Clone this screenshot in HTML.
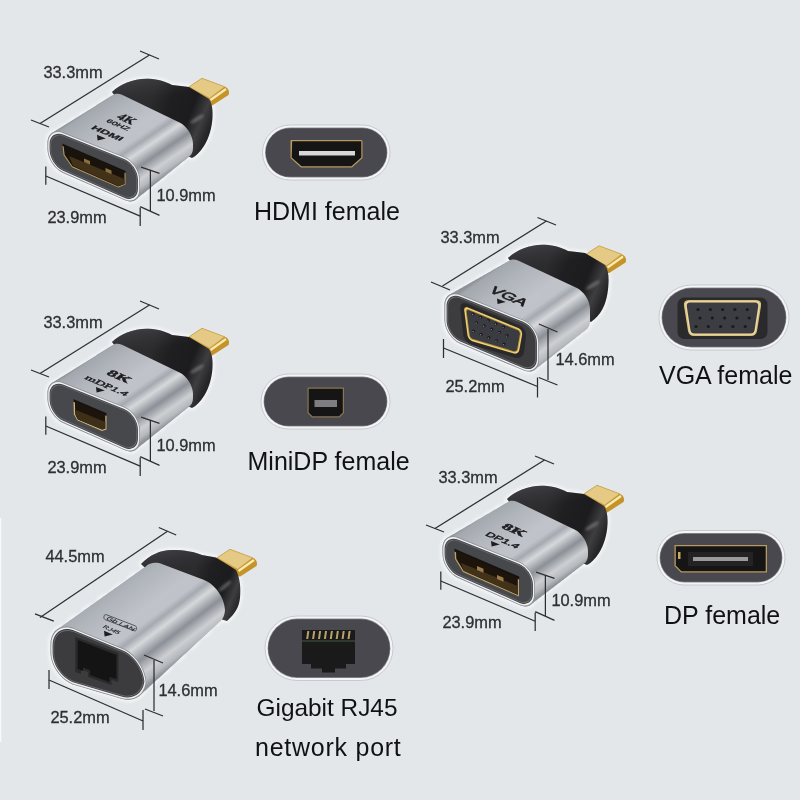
<!DOCTYPE html><html><head><meta charset="utf-8"><style>html,body{margin:0;padding:0;background:#e3e7ea}svg{display:block;font-family:"Liberation Sans",sans-serif;filter:blur(0.3px)}</style></head><body>
<svg width="800" height="800" viewBox="0 0 800 800"><defs><filter id="hb" x="-20%" y="-20%" width="140%" height="140%"><feGaussianBlur stdDeviation="1.8"/></filter><filter id="hs" x="-50%" y="-50%" width="200%" height="200%"><feGaussianBlur stdDeviation="1.3"/></filter><linearGradient id="lg1" gradientUnits="userSpaceOnUse" x1="150.0" y1="100.0" x2="210.0" y2="125.0"><stop offset="0.000" stop-color="#2c2c2f"/><stop offset="0.300" stop-color="#1f1f21"/><stop offset="0.650" stop-color="#1c1c1e"/><stop offset="0.850" stop-color="#3e3e41"/><stop offset="1.000" stop-color="#262628"/></linearGradient><linearGradient id="bg2" x1="0" y1="0" x2="0.25" y2="1"><stop offset="0" stop-color="#5a5a60" stop-opacity="0.55"/><stop offset="0.35" stop-color="#3a3a3e" stop-opacity="0"/></linearGradient><clipPath id="c3"><path d="M63.28,132.31 L124.22,156.69 C132.90,160.16 140.00,170.65 140.00,180.00 L140.00,190.00 C140.00,199.35 133.01,203.90 124.46,200.11 L63.04,172.89 C54.49,169.10 47.50,158.35 47.50,149.00 L47.50,143.00 C47.50,133.65 54.60,128.84 63.28,132.31 Z"/><path d="M65.26,131.07 L126.06,155.54 C134.70,159.02 141.77,169.49 141.77,178.80 L141.77,188.60 C141.77,197.91 134.80,202.45 126.29,198.67 L65.03,171.53 C56.52,167.75 49.55,157.05 49.55,147.73 L49.55,141.68 C49.55,132.37 56.62,127.60 65.26,131.07 Z"/><path d="M67.23,129.83 L127.90,154.40 C136.50,157.88 143.53,168.32 143.53,177.60 L143.53,187.20 C143.53,196.48 136.59,200.99 128.11,197.23 L67.02,170.17 C58.54,166.41 51.60,155.74 51.60,146.47 L51.60,140.37 C51.60,131.09 58.63,126.35 67.23,129.83 Z"/><path d="M69.21,128.59 L129.74,153.26 C138.30,156.75 145.30,167.16 145.30,176.40 L145.30,185.80 C145.30,195.04 138.39,199.54 129.94,195.80 L69.01,168.80 C60.56,165.06 53.65,154.44 53.65,145.20 L53.65,139.05 C53.65,129.81 60.65,125.10 69.21,128.59 Z"/><path d="M71.18,127.35 L131.58,152.12 C140.10,155.61 147.07,166.00 147.07,175.20 L147.07,184.40 C147.07,193.60 140.18,198.08 131.77,194.36 L71.00,167.44 C62.58,163.72 55.70,153.14 55.70,143.93 L55.70,137.73 C55.70,128.53 62.67,123.86 71.18,127.35 Z"/><path d="M73.16,126.11 L133.43,150.98 C141.90,154.47 148.83,164.83 148.83,174.00 L148.83,183.00 C148.83,192.17 141.98,196.63 133.59,192.92 L72.99,166.08 C64.61,162.37 57.75,151.83 57.75,142.67 L57.75,136.42 C57.75,127.25 64.68,122.61 73.16,126.11 Z"/><path d="M75.13,124.87 L135.27,149.83 C143.70,153.34 150.60,163.67 150.60,172.80 L150.60,181.60 C150.60,190.73 143.77,195.18 135.42,191.48 L74.98,164.72 C66.63,161.02 59.80,150.53 59.80,141.40 L59.80,135.10 C59.80,125.97 66.70,121.36 75.13,124.87 Z"/><path d="M77.11,123.62 L137.11,148.69 C145.50,152.20 152.37,162.51 152.37,171.60 L152.37,180.20 C152.37,189.29 145.56,193.72 137.25,190.04 L76.97,163.36 C68.65,159.68 61.85,149.23 61.85,140.13 L61.85,133.78 C61.85,124.69 68.71,120.12 77.11,123.62 Z"/><path d="M79.08,122.38 L138.95,147.55 C147.30,151.06 154.13,161.34 154.13,170.40 L154.13,178.80 C154.13,187.86 147.36,192.27 139.08,188.60 L78.96,162.00 C70.68,158.33 63.90,147.92 63.90,138.87 L63.90,132.47 C63.90,123.41 70.73,118.87 79.08,122.38 Z"/><path d="M81.05,121.14 L140.80,146.41 C149.10,149.92 155.90,160.18 155.90,169.20 L155.90,177.40 C155.90,186.42 149.15,190.81 140.90,187.16 L80.95,160.64 C72.70,156.99 65.95,146.62 65.95,137.60 L65.95,131.15 C65.95,122.13 72.75,117.63 81.05,121.14 Z"/><path d="M83.03,119.90 L142.64,145.27 C150.90,148.79 157.67,159.02 157.67,168.00 L157.67,176.00 C157.67,184.98 150.95,189.36 142.73,185.73 L82.94,159.27 C74.72,155.64 68.00,145.32 68.00,136.33 L68.00,129.83 C68.00,120.85 74.76,116.38 83.03,119.90 Z"/><path d="M85.00,118.65 L144.48,144.13 C152.70,147.65 159.43,157.85 159.43,166.80 L159.43,174.60 C159.43,183.55 152.74,187.91 144.56,184.29 L84.93,157.91 C76.74,154.29 70.05,144.01 70.05,135.07 L70.05,128.52 C70.05,119.57 76.78,115.13 85.00,118.65 Z"/><path d="M86.98,117.41 L146.32,142.99 C154.51,146.51 161.20,156.69 161.20,165.60 L161.20,173.20 C161.20,182.11 154.53,186.45 146.38,182.85 L86.92,156.55 C78.77,152.95 72.10,142.71 72.10,133.80 L72.10,127.20 C72.10,118.29 78.79,113.89 86.98,117.41 Z"/><path d="M88.95,116.17 L148.17,141.85 C156.31,145.38 162.97,155.53 162.97,164.40 L162.97,171.80 C162.97,180.67 156.33,185.00 148.21,181.41 L88.91,155.19 C80.79,151.60 74.15,141.41 74.15,132.53 L74.15,125.88 C74.15,117.01 80.81,112.64 88.95,116.17 Z"/><path d="M90.93,114.93 L150.01,140.71 C158.11,144.24 164.73,154.36 164.73,163.20 L164.73,170.40 C164.73,179.24 158.12,183.54 150.04,179.97 L90.90,153.83 C82.81,150.26 76.20,140.10 76.20,131.27 L76.20,124.57 C76.20,115.73 82.83,111.39 90.93,114.93 Z"/><path d="M92.90,113.68 L151.85,139.57 C159.91,143.11 166.50,153.20 166.50,162.00 L166.50,169.00 C166.50,177.80 159.91,182.09 151.87,178.53 L92.88,152.47 C84.84,148.91 78.25,138.80 78.25,130.00 L78.25,123.25 C78.25,114.45 84.84,110.14 92.90,113.68 Z"/><path d="M94.87,112.44 L153.69,138.43 C161.71,141.97 168.27,152.04 168.27,160.80 L168.27,167.60 C168.27,176.36 161.71,180.64 153.69,177.09 L94.87,151.11 C86.86,147.56 80.30,137.50 80.30,128.73 L80.30,121.93 C80.30,113.17 86.86,108.90 94.87,112.44 Z"/><path d="M96.85,111.20 L155.53,137.29 C163.51,140.83 170.03,150.87 170.03,159.60 L170.03,166.20 C170.03,174.93 163.50,179.18 155.52,175.66 L96.86,149.74 C88.88,146.22 82.35,136.19 82.35,127.47 L82.35,120.62 C82.35,111.89 88.87,107.65 96.85,111.20 Z"/><path d="M98.82,109.95 L157.38,136.15 C165.31,139.70 171.80,149.71 171.80,158.40 L171.80,164.80 C171.80,173.49 165.30,177.73 157.35,174.22 L98.85,148.38 C90.90,144.87 84.40,134.89 84.40,126.20 L84.40,119.30 C84.40,110.61 90.89,106.40 98.82,109.95 Z"/><path d="M100.80,108.71 L159.22,135.01 C167.11,138.56 173.57,148.55 173.57,157.20 L173.57,163.40 C173.57,172.05 167.09,176.27 159.17,172.78 L100.84,147.02 C92.93,143.53 86.45,133.59 86.45,124.93 L86.45,117.98 C86.45,109.33 92.91,105.16 100.80,108.71 Z"/><path d="M102.77,107.46 L161.06,133.87 C168.91,137.42 175.33,147.38 175.33,156.00 L175.33,162.00 C175.33,170.62 168.88,174.82 161.00,171.34 L102.83,145.66 C94.95,142.18 88.50,132.28 88.50,123.67 L88.50,116.67 C88.50,108.05 94.92,103.91 102.77,107.46 Z"/><path d="M104.74,106.22 L162.91,132.73 C170.71,136.29 177.10,146.22 177.10,154.80 L177.10,160.60 C177.10,169.18 170.68,173.37 162.83,169.90 L104.82,144.30 C96.97,140.83 90.55,130.98 90.55,122.40 L90.55,115.35 C90.55,106.77 96.94,102.66 104.74,106.22 Z"/><path d="M106.72,104.98 L164.75,131.59 C172.51,135.15 178.87,145.06 178.87,153.60 L178.87,159.20 C178.87,167.74 172.47,171.91 164.66,168.46 L106.81,142.94 C99.00,139.49 92.60,129.68 92.60,121.13 L92.60,114.03 C92.60,105.49 98.95,101.41 106.72,104.98 Z"/><path d="M108.69,103.73 L166.59,130.45 C174.31,134.02 180.63,143.89 180.63,152.40 L180.63,157.80 C180.63,166.31 174.27,170.46 166.48,167.02 L108.80,141.58 C101.02,138.14 94.65,128.37 94.65,119.87 L94.65,112.72 C94.65,104.21 100.97,100.17 108.69,103.73 Z"/><path d="M110.67,102.49 L168.43,129.31 C176.11,132.88 182.40,142.73 182.40,151.20 L182.40,156.40 C182.40,164.87 176.06,169.00 168.31,165.59 L110.79,140.21 C103.04,136.80 96.70,127.07 96.70,118.60 L96.70,111.40 C96.70,102.93 102.99,98.92 110.67,102.49 Z"/><path d="M112.64,101.24 L170.28,128.18 C177.92,131.75 184.17,141.57 184.17,150.00 L184.17,155.00 C184.17,163.43 177.85,167.55 170.14,164.15 L112.78,138.85 C105.06,135.45 98.75,125.77 98.75,117.33 L98.75,110.08 C98.75,101.65 105.00,97.67 112.64,101.24 Z"/><path d="M114.62,100.00 L172.12,127.04 C179.72,130.61 185.93,140.40 185.93,148.80 L185.93,153.60 C185.93,162.00 179.65,166.10 171.96,162.71 L114.77,137.49 C107.09,134.10 100.80,124.46 100.80,116.07 L100.80,108.77 C100.80,100.37 107.02,96.42 114.62,100.00 Z"/><path d="M116.59,98.75 L173.96,125.90 C181.52,129.47 187.70,139.24 187.70,147.60 L187.70,152.20 C187.70,160.56 181.44,164.64 173.79,161.27 L116.76,136.13 C109.11,132.76 102.85,123.16 102.85,114.80 L102.85,107.45 C102.85,99.09 109.03,95.18 116.59,98.75 Z"/><path d="M118.56,97.51 L175.80,124.76 C183.32,128.34 189.47,138.08 189.47,146.40 L189.47,150.80 C189.47,159.12 183.23,163.19 175.62,159.83 L118.75,134.77 C111.13,131.41 104.90,121.86 104.90,113.53 L104.90,106.13 C104.90,97.81 111.05,93.93 118.56,97.51 Z"/><path d="M120.54,96.26 L177.65,123.62 C185.12,127.20 191.23,136.91 191.23,145.20 L191.23,149.40 C191.23,157.69 185.03,161.73 177.45,158.39 L120.74,133.41 C113.15,130.07 106.95,120.55 106.95,112.27 L106.95,104.82 C106.95,96.53 113.06,92.68 120.54,96.26 Z"/><path d="M122.51,95.01 L179.49,122.49 C186.92,126.07 193.00,135.75 193.00,144.00 L193.00,148.00 C193.00,156.25 186.82,160.28 179.27,156.95 L122.73,132.05 C115.18,128.72 109.00,119.25 109.00,111.00 L109.00,103.50 C109.00,95.25 115.08,91.43 122.51,95.01 Z"/></clipPath><linearGradient id="lg4" gradientUnits="userSpaceOnUse" x1="85.0" y1="111.0" x2="141.0" y2="193.0"><stop offset="0.000" stop-color="#8e9299"/><stop offset="0.030" stop-color="#a3a7ae"/><stop offset="0.180" stop-color="#b0b4bb"/><stop offset="0.420" stop-color="#c0c3c9"/><stop offset="0.520" stop-color="#bfc2c8"/><stop offset="0.575" stop-color="#a5a9b0"/><stop offset="0.650" stop-color="#d6d8db"/><stop offset="0.770" stop-color="#8c9097"/><stop offset="0.880" stop-color="#cdcfd2"/><stop offset="0.950" stop-color="#b6b9bd"/><stop offset="1.000" stop-color="#8e9195"/></linearGradient><linearGradient id="lg5" gradientUnits="userSpaceOnUse" x1="150.0" y1="100.0" x2="210.0" y2="125.0"><stop offset="0.000" stop-color="#2c2c2f"/><stop offset="0.300" stop-color="#1f1f21"/><stop offset="0.650" stop-color="#1c1c1e"/><stop offset="0.850" stop-color="#3e3e41"/><stop offset="1.000" stop-color="#262628"/></linearGradient><linearGradient id="bg6" x1="0" y1="0" x2="0.25" y2="1"><stop offset="0" stop-color="#5a5a60" stop-opacity="0.55"/><stop offset="0.35" stop-color="#3a3a3e" stop-opacity="0"/></linearGradient><clipPath id="c7"><path d="M63.28,382.31 L124.22,406.69 C132.90,410.16 140.00,420.65 140.00,430.00 L140.00,440.00 C140.00,449.35 133.01,453.90 124.46,450.11 L63.04,422.89 C54.49,419.10 47.50,408.35 47.50,399.00 L47.50,393.00 C47.50,383.65 54.60,378.84 63.28,382.31 Z"/><path d="M65.26,381.07 L126.06,405.54 C134.70,409.02 141.77,419.49 141.77,428.80 L141.77,438.60 C141.77,447.91 134.80,452.45 126.29,448.67 L65.03,421.53 C56.52,417.75 49.55,407.05 49.55,397.73 L49.55,391.68 C49.55,382.37 56.62,377.60 65.26,381.07 Z"/><path d="M67.23,379.83 L127.90,404.40 C136.50,407.88 143.53,418.32 143.53,427.60 L143.53,437.20 C143.53,446.48 136.59,450.99 128.11,447.23 L67.02,420.17 C58.54,416.41 51.60,405.74 51.60,396.47 L51.60,390.37 C51.60,381.09 58.63,376.35 67.23,379.83 Z"/><path d="M69.21,378.59 L129.74,403.26 C138.30,406.75 145.30,417.16 145.30,426.40 L145.30,435.80 C145.30,445.04 138.39,449.54 129.94,445.80 L69.01,418.80 C60.56,415.06 53.65,404.44 53.65,395.20 L53.65,389.05 C53.65,379.81 60.65,375.10 69.21,378.59 Z"/><path d="M71.18,377.35 L131.58,402.12 C140.10,405.61 147.07,416.00 147.07,425.20 L147.07,434.40 C147.07,443.60 140.18,448.08 131.77,444.36 L71.00,417.44 C62.58,413.72 55.70,403.14 55.70,393.93 L55.70,387.73 C55.70,378.53 62.67,373.86 71.18,377.35 Z"/><path d="M73.16,376.11 L133.43,400.98 C141.90,404.47 148.83,414.83 148.83,424.00 L148.83,433.00 C148.83,442.17 141.98,446.63 133.59,442.92 L72.99,416.08 C64.61,412.37 57.75,401.83 57.75,392.67 L57.75,386.42 C57.75,377.25 64.68,372.61 73.16,376.11 Z"/><path d="M75.13,374.87 L135.27,399.83 C143.70,403.34 150.60,413.67 150.60,422.80 L150.60,431.60 C150.60,440.73 143.77,445.18 135.42,441.48 L74.98,414.72 C66.63,411.02 59.80,400.53 59.80,391.40 L59.80,385.10 C59.80,375.97 66.70,371.36 75.13,374.87 Z"/><path d="M77.11,373.62 L137.11,398.69 C145.50,402.20 152.37,412.51 152.37,421.60 L152.37,430.20 C152.37,439.29 145.56,443.72 137.25,440.04 L76.97,413.36 C68.65,409.68 61.85,399.23 61.85,390.13 L61.85,383.78 C61.85,374.69 68.71,370.12 77.11,373.62 Z"/><path d="M79.08,372.38 L138.95,397.55 C147.30,401.06 154.13,411.34 154.13,420.40 L154.13,428.80 C154.13,437.86 147.36,442.27 139.08,438.60 L78.96,412.00 C70.68,408.33 63.90,397.92 63.90,388.87 L63.90,382.47 C63.90,373.41 70.73,368.87 79.08,372.38 Z"/><path d="M81.05,371.14 L140.80,396.41 C149.10,399.92 155.90,410.18 155.90,419.20 L155.90,427.40 C155.90,436.42 149.15,440.81 140.90,437.16 L80.95,410.64 C72.70,406.99 65.95,396.62 65.95,387.60 L65.95,381.15 C65.95,372.13 72.75,367.63 81.05,371.14 Z"/><path d="M83.03,369.90 L142.64,395.27 C150.90,398.79 157.67,409.02 157.67,418.00 L157.67,426.00 C157.67,434.98 150.95,439.36 142.73,435.73 L82.94,409.27 C74.72,405.64 68.00,395.32 68.00,386.33 L68.00,379.83 C68.00,370.85 74.76,366.38 83.03,369.90 Z"/><path d="M85.00,368.65 L144.48,394.13 C152.70,397.65 159.43,407.85 159.43,416.80 L159.43,424.60 C159.43,433.55 152.74,437.91 144.56,434.29 L84.93,407.91 C76.74,404.29 70.05,394.01 70.05,385.07 L70.05,378.52 C70.05,369.57 76.78,365.13 85.00,368.65 Z"/><path d="M86.98,367.41 L146.32,392.99 C154.51,396.51 161.20,406.69 161.20,415.60 L161.20,423.20 C161.20,432.11 154.53,436.45 146.38,432.85 L86.92,406.55 C78.77,402.95 72.10,392.71 72.10,383.80 L72.10,377.20 C72.10,368.29 78.79,363.89 86.98,367.41 Z"/><path d="M88.95,366.17 L148.17,391.85 C156.31,395.38 162.97,405.53 162.97,414.40 L162.97,421.80 C162.97,430.67 156.33,435.00 148.21,431.41 L88.91,405.19 C80.79,401.60 74.15,391.41 74.15,382.53 L74.15,375.88 C74.15,367.01 80.81,362.64 88.95,366.17 Z"/><path d="M90.93,364.93 L150.01,390.71 C158.11,394.24 164.73,404.36 164.73,413.20 L164.73,420.40 C164.73,429.24 158.12,433.54 150.04,429.97 L90.90,403.83 C82.81,400.26 76.20,390.10 76.20,381.27 L76.20,374.57 C76.20,365.73 82.83,361.39 90.93,364.93 Z"/><path d="M92.90,363.68 L151.85,389.57 C159.91,393.11 166.50,403.20 166.50,412.00 L166.50,419.00 C166.50,427.80 159.91,432.09 151.87,428.53 L92.88,402.47 C84.84,398.91 78.25,388.80 78.25,380.00 L78.25,373.25 C78.25,364.45 84.84,360.14 92.90,363.68 Z"/><path d="M94.87,362.44 L153.69,388.43 C161.71,391.97 168.27,402.04 168.27,410.80 L168.27,417.60 C168.27,426.36 161.71,430.64 153.69,427.09 L94.87,401.11 C86.86,397.56 80.30,387.50 80.30,378.73 L80.30,371.93 C80.30,363.17 86.86,358.90 94.87,362.44 Z"/><path d="M96.85,361.20 L155.53,387.29 C163.51,390.83 170.03,400.87 170.03,409.60 L170.03,416.20 C170.03,424.93 163.50,429.18 155.52,425.66 L96.86,399.74 C88.88,396.22 82.35,386.19 82.35,377.47 L82.35,370.62 C82.35,361.89 88.87,357.65 96.85,361.20 Z"/><path d="M98.82,359.95 L157.38,386.15 C165.31,389.70 171.80,399.71 171.80,408.40 L171.80,414.80 C171.80,423.49 165.30,427.73 157.35,424.22 L98.85,398.38 C90.90,394.87 84.40,384.89 84.40,376.20 L84.40,369.30 C84.40,360.61 90.89,356.40 98.82,359.95 Z"/><path d="M100.80,358.71 L159.22,385.01 C167.11,388.56 173.57,398.55 173.57,407.20 L173.57,413.40 C173.57,422.05 167.09,426.27 159.17,422.78 L100.84,397.02 C92.93,393.53 86.45,383.59 86.45,374.93 L86.45,367.98 C86.45,359.33 92.91,355.16 100.80,358.71 Z"/><path d="M102.77,357.46 L161.06,383.87 C168.91,387.42 175.33,397.38 175.33,406.00 L175.33,412.00 C175.33,420.62 168.88,424.82 161.00,421.34 L102.83,395.66 C94.95,392.18 88.50,382.28 88.50,373.67 L88.50,366.67 C88.50,358.05 94.92,353.91 102.77,357.46 Z"/><path d="M104.74,356.22 L162.91,382.73 C170.71,386.29 177.10,396.22 177.10,404.80 L177.10,410.60 C177.10,419.18 170.68,423.37 162.83,419.90 L104.82,394.30 C96.97,390.83 90.55,380.98 90.55,372.40 L90.55,365.35 C90.55,356.77 96.94,352.66 104.74,356.22 Z"/><path d="M106.72,354.98 L164.75,381.59 C172.51,385.15 178.87,395.06 178.87,403.60 L178.87,409.20 C178.87,417.74 172.47,421.91 164.66,418.46 L106.81,392.94 C99.00,389.49 92.60,379.68 92.60,371.13 L92.60,364.03 C92.60,355.49 98.95,351.41 106.72,354.98 Z"/><path d="M108.69,353.73 L166.59,380.45 C174.31,384.02 180.63,393.89 180.63,402.40 L180.63,407.80 C180.63,416.31 174.27,420.46 166.48,417.02 L108.80,391.58 C101.02,388.14 94.65,378.37 94.65,369.87 L94.65,362.72 C94.65,354.21 100.97,350.17 108.69,353.73 Z"/><path d="M110.67,352.49 L168.43,379.31 C176.11,382.88 182.40,392.73 182.40,401.20 L182.40,406.40 C182.40,414.87 176.06,419.00 168.31,415.59 L110.79,390.21 C103.04,386.80 96.70,377.07 96.70,368.60 L96.70,361.40 C96.70,352.93 102.99,348.92 110.67,352.49 Z"/><path d="M112.64,351.24 L170.28,378.18 C177.92,381.75 184.17,391.57 184.17,400.00 L184.17,405.00 C184.17,413.43 177.85,417.55 170.14,414.15 L112.78,388.85 C105.06,385.45 98.75,375.77 98.75,367.33 L98.75,360.08 C98.75,351.65 105.00,347.67 112.64,351.24 Z"/><path d="M114.62,350.00 L172.12,377.04 C179.72,380.61 185.93,390.40 185.93,398.80 L185.93,403.60 C185.93,412.00 179.65,416.10 171.96,412.71 L114.77,387.49 C107.09,384.10 100.80,374.46 100.80,366.07 L100.80,358.77 C100.80,350.37 107.02,346.42 114.62,350.00 Z"/><path d="M116.59,348.75 L173.96,375.90 C181.52,379.47 187.70,389.24 187.70,397.60 L187.70,402.20 C187.70,410.56 181.44,414.64 173.79,411.27 L116.76,386.13 C109.11,382.76 102.85,373.16 102.85,364.80 L102.85,357.45 C102.85,349.09 109.03,345.18 116.59,348.75 Z"/><path d="M118.56,347.51 L175.80,374.76 C183.32,378.34 189.47,388.08 189.47,396.40 L189.47,400.80 C189.47,409.12 183.23,413.19 175.62,409.83 L118.75,384.77 C111.13,381.41 104.90,371.86 104.90,363.53 L104.90,356.13 C104.90,347.81 111.05,343.93 118.56,347.51 Z"/><path d="M120.54,346.26 L177.65,373.62 C185.12,377.20 191.23,386.91 191.23,395.20 L191.23,399.40 C191.23,407.69 185.03,411.73 177.45,408.39 L120.74,383.41 C113.15,380.07 106.95,370.55 106.95,362.27 L106.95,354.82 C106.95,346.53 113.06,342.68 120.54,346.26 Z"/><path d="M122.51,345.01 L179.49,372.49 C186.92,376.07 193.00,385.75 193.00,394.00 L193.00,398.00 C193.00,406.25 186.82,410.28 179.27,406.95 L122.73,382.05 C115.18,378.72 109.00,369.25 109.00,361.00 L109.00,353.50 C109.00,345.25 115.08,341.43 122.51,345.01 Z"/></clipPath><linearGradient id="lg8" gradientUnits="userSpaceOnUse" x1="85.0" y1="361.0" x2="141.0" y2="443.0"><stop offset="0.000" stop-color="#8e9299"/><stop offset="0.030" stop-color="#a3a7ae"/><stop offset="0.180" stop-color="#b0b4bb"/><stop offset="0.420" stop-color="#c0c3c9"/><stop offset="0.520" stop-color="#bfc2c8"/><stop offset="0.575" stop-color="#a5a9b0"/><stop offset="0.650" stop-color="#d6d8db"/><stop offset="0.770" stop-color="#8c9097"/><stop offset="0.880" stop-color="#cdcfd2"/><stop offset="0.950" stop-color="#b6b9bd"/><stop offset="1.000" stop-color="#8e9195"/></linearGradient><linearGradient id="lg9" gradientUnits="userSpaceOnUse" x1="150.0" y1="100.0" x2="210.0" y2="125.0"><stop offset="0.000" stop-color="#2c2c2f"/><stop offset="0.300" stop-color="#1f1f21"/><stop offset="0.650" stop-color="#1c1c1e"/><stop offset="0.850" stop-color="#3e3e41"/><stop offset="1.000" stop-color="#262628"/></linearGradient><linearGradient id="bg10" x1="0" y1="0" x2="0.25" y2="1"><stop offset="0" stop-color="#5a5a60" stop-opacity="0.55"/><stop offset="0.35" stop-color="#3a3a3e" stop-opacity="0"/></linearGradient><clipPath id="c11"><path d="M458.28,537.31 L519.22,561.69 C527.90,565.16 535.00,575.65 535.00,585.00 L535.00,595.00 C535.00,604.35 528.01,608.90 519.46,605.11 L458.04,577.89 C449.49,574.10 442.50,563.35 442.50,554.00 L442.50,548.00 C442.50,538.65 449.60,533.84 458.28,537.31 Z"/><path d="M460.26,536.14 L521.06,560.61 C529.70,564.09 536.77,574.55 536.77,583.87 L536.77,593.67 C536.77,602.98 529.80,607.51 521.29,603.74 L460.03,576.59 C451.52,572.82 444.55,562.11 444.55,552.80 L444.55,546.75 C444.55,537.44 451.62,532.66 460.26,536.14 Z"/><path d="M462.23,534.96 L522.90,559.54 C531.50,563.02 538.53,573.46 538.53,582.73 L538.53,592.33 C538.53,601.61 531.59,606.13 523.11,602.37 L462.02,575.30 C453.54,571.54 446.60,560.88 446.60,551.60 L446.60,545.50 C446.60,536.22 453.63,531.48 462.23,534.96 Z"/><path d="M464.21,533.79 L524.74,558.46 C533.30,561.95 540.30,572.36 540.30,581.60 L540.30,591.00 C540.30,600.24 533.39,604.74 524.94,601.00 L464.01,574.00 C455.56,570.26 448.65,559.64 448.65,550.40 L448.65,544.25 C448.65,535.01 455.65,530.30 464.21,533.79 Z"/><path d="M466.18,532.62 L526.58,557.38 C535.10,560.88 542.07,571.26 542.07,580.47 L542.07,589.67 C542.07,598.87 535.18,603.35 526.77,599.62 L466.00,572.71 C457.58,568.98 450.70,558.40 450.70,549.20 L450.70,543.00 C450.70,533.80 457.67,529.12 466.18,532.62 Z"/><path d="M468.16,531.44 L528.43,556.31 C536.90,559.81 543.83,570.17 543.83,579.33 L543.83,588.33 C543.83,597.50 536.98,601.96 528.59,598.25 L467.99,571.41 C459.61,567.70 452.75,557.17 452.75,548.00 L452.75,541.75 C452.75,532.58 459.68,527.94 468.16,531.44 Z"/><path d="M470.13,530.27 L530.27,555.23 C538.70,558.74 545.60,569.07 545.60,578.20 L545.60,587.00 C545.60,596.13 538.77,600.58 530.42,596.88 L469.98,570.12 C461.63,566.42 454.80,555.93 454.80,546.80 L454.80,540.50 C454.80,531.37 461.70,526.76 470.13,530.27 Z"/><path d="M472.11,529.09 L532.11,554.16 C540.50,557.67 547.37,567.97 547.37,577.07 L547.37,585.67 C547.37,594.76 540.56,599.19 532.25,595.51 L471.97,568.83 C463.65,565.14 456.85,554.69 456.85,545.60 L456.85,539.25 C456.85,530.16 463.71,525.58 472.11,529.09 Z"/><path d="M474.08,527.91 L533.95,553.09 C542.30,556.60 549.13,566.88 549.13,575.93 L549.13,584.33 C549.13,593.39 542.36,597.80 534.08,594.14 L473.96,567.53 C465.68,563.87 458.90,553.46 458.90,544.40 L458.90,538.00 C458.90,528.94 465.73,524.40 474.08,527.91 Z"/><path d="M476.05,526.74 L535.80,552.01 C544.10,555.52 550.90,565.78 550.90,574.80 L550.90,583.00 C550.90,592.02 544.15,596.41 535.90,592.76 L475.95,566.24 C467.70,562.59 460.95,552.22 460.95,543.20 L460.95,536.75 C460.95,527.73 467.75,523.23 476.05,526.74 Z"/><path d="M478.03,525.56 L537.64,550.94 C545.90,554.45 552.67,564.68 552.67,573.67 L552.67,581.67 C552.67,590.65 545.95,595.03 537.73,591.39 L477.94,564.94 C469.72,561.31 463.00,550.98 463.00,542.00 L463.00,535.50 C463.00,526.52 469.76,522.05 478.03,525.56 Z"/><path d="M480.00,524.39 L539.48,549.86 C547.70,553.38 554.43,563.59 554.43,572.53 L554.43,580.33 C554.43,589.28 547.74,593.64 539.56,590.02 L479.93,563.65 C471.74,560.03 465.05,549.75 465.05,540.80 L465.05,534.25 C465.05,525.30 471.78,520.87 480.00,524.39 Z"/><path d="M481.98,523.21 L541.32,548.79 C549.51,552.31 556.20,562.49 556.20,571.40 L556.20,579.00 C556.20,587.91 549.53,592.25 541.38,588.65 L481.92,562.35 C473.77,558.75 467.10,548.51 467.10,539.60 L467.10,533.00 C467.10,524.09 473.79,519.69 481.98,523.21 Z"/><path d="M483.95,522.04 L543.17,547.71 C551.31,551.24 557.97,561.39 557.97,570.27 L557.97,577.67 C557.97,586.54 551.33,590.86 543.21,587.28 L483.91,561.06 C475.79,557.47 469.15,547.27 469.15,538.40 L469.15,531.75 C469.15,522.88 475.81,518.51 483.95,522.04 Z"/><path d="M485.93,520.86 L545.01,546.64 C553.11,550.18 559.73,560.30 559.73,569.13 L559.73,576.33 C559.73,585.17 553.12,589.48 545.04,585.90 L485.90,559.76 C477.81,556.19 471.20,546.04 471.20,537.20 L471.20,530.50 C471.20,521.66 477.83,517.32 485.93,520.86 Z"/><path d="M487.90,519.68 L546.85,545.57 C554.91,549.11 561.50,559.20 561.50,568.00 L561.50,575.00 C561.50,583.80 554.91,588.09 546.87,584.53 L487.88,558.47 C479.84,554.91 473.25,544.80 473.25,536.00 L473.25,529.25 C473.25,520.45 479.84,516.14 487.90,519.68 Z"/><path d="M489.87,518.51 L548.69,544.49 C556.71,548.04 563.27,558.10 563.27,566.87 L563.27,573.67 C563.27,582.43 556.71,586.70 548.69,583.16 L489.87,557.17 C481.86,553.63 475.30,543.56 475.30,534.80 L475.30,528.00 C475.30,519.24 481.86,514.96 489.87,518.51 Z"/><path d="M491.85,517.33 L550.53,543.42 C558.51,546.97 565.03,557.01 565.03,565.73 L565.03,572.33 C565.03,581.06 558.50,585.31 550.52,581.79 L491.86,555.88 C483.88,552.35 477.35,542.33 477.35,533.60 L477.35,526.75 C477.35,518.02 483.87,513.78 491.85,517.33 Z"/><path d="M493.82,516.15 L552.38,542.35 C560.31,545.90 566.80,555.91 566.80,564.60 L566.80,571.00 C566.80,579.69 560.30,583.93 552.35,580.42 L493.85,554.58 C485.90,551.07 479.40,541.09 479.40,532.40 L479.40,525.50 C479.40,516.81 485.89,512.60 493.82,516.15 Z"/><path d="M495.80,514.98 L554.22,541.27 C562.11,544.83 568.57,554.81 568.57,563.47 L568.57,569.67 C568.57,578.32 562.09,582.54 554.17,579.04 L495.84,553.29 C487.93,549.79 481.45,539.85 481.45,531.20 L481.45,524.25 C481.45,515.60 487.91,511.42 495.80,514.98 Z"/><path d="M497.77,513.80 L556.06,540.20 C563.91,543.76 570.33,553.72 570.33,562.33 L570.33,568.33 C570.33,576.95 563.88,581.15 556.00,577.67 L497.83,551.99 C489.95,548.51 483.50,538.62 483.50,530.00 L483.50,523.00 C483.50,514.38 489.92,510.24 497.77,513.80 Z"/><path d="M499.74,512.62 L557.91,539.13 C565.71,542.69 572.10,552.62 572.10,561.20 L572.10,567.00 C572.10,575.58 565.68,579.77 557.83,576.30 L499.82,550.70 C491.97,547.23 485.55,537.38 485.55,528.80 L485.55,521.75 C485.55,513.17 491.94,509.06 499.74,512.62 Z"/><path d="M501.72,511.44 L559.75,538.06 C567.51,541.62 573.87,551.52 573.87,560.07 L573.87,565.67 C573.87,574.21 567.47,578.38 559.66,574.93 L501.81,549.40 C494.00,545.96 487.60,536.14 487.60,527.60 L487.60,520.50 C487.60,511.96 493.95,507.88 501.72,511.44 Z"/><path d="M503.69,510.26 L561.59,536.99 C569.31,540.55 575.63,550.43 575.63,558.93 L575.63,564.33 C575.63,572.84 569.27,576.99 561.48,573.56 L503.80,548.11 C496.02,544.68 489.65,534.91 489.65,526.40 L489.65,519.25 C489.65,510.74 495.97,506.70 503.69,510.26 Z"/><path d="M505.67,509.09 L563.43,535.91 C571.11,539.48 577.40,549.33 577.40,557.80 L577.40,563.00 C577.40,571.47 571.06,575.60 563.31,572.19 L505.79,546.81 C498.04,543.40 491.70,533.67 491.70,525.20 L491.70,518.00 C491.70,509.53 497.99,505.52 505.67,509.09 Z"/><path d="M507.64,507.91 L565.28,534.84 C572.92,538.41 579.17,548.23 579.17,556.67 L579.17,561.67 C579.17,570.10 572.85,574.22 565.14,570.81 L507.78,545.52 C500.06,542.12 493.75,532.43 493.75,524.00 L493.75,516.75 C493.75,508.32 500.00,504.34 507.64,507.91 Z"/><path d="M509.62,506.73 L567.12,533.77 C574.72,537.34 580.93,547.14 580.93,555.53 L580.93,560.33 C580.93,568.73 574.65,572.83 566.96,569.44 L509.77,544.23 C502.09,540.84 495.80,531.20 495.80,522.80 L495.80,515.50 C495.80,507.10 502.02,503.16 509.62,506.73 Z"/><path d="M511.59,505.55 L568.96,532.70 C576.52,536.27 582.70,546.04 582.70,554.40 L582.70,559.00 C582.70,567.36 576.44,571.44 568.79,568.07 L511.76,542.93 C504.11,539.56 497.85,529.96 497.85,521.60 L497.85,514.25 C497.85,505.89 504.03,501.98 511.59,505.55 Z"/><path d="M513.56,504.37 L570.80,531.63 C578.32,535.21 584.47,544.94 584.47,553.27 L584.47,557.67 C584.47,565.99 578.23,570.05 570.62,566.70 L513.75,541.64 C506.13,538.28 499.90,528.72 499.90,520.40 L499.90,513.00 C499.90,504.68 506.05,500.79 513.56,504.37 Z"/><path d="M515.54,503.19 L572.65,530.56 C580.12,534.14 586.23,543.85 586.23,552.13 L586.23,556.33 C586.23,564.62 580.03,568.67 572.45,565.33 L515.74,540.34 C508.15,537.00 501.95,527.49 501.95,519.20 L501.95,511.75 C501.95,503.46 508.06,499.61 515.54,503.19 Z"/><path d="M517.51,502.01 L574.49,529.49 C581.92,533.07 588.00,542.75 588.00,551.00 L588.00,555.00 C588.00,563.25 581.82,567.28 574.27,563.95 L517.73,539.05 C510.18,535.72 504.00,526.25 504.00,518.00 L504.00,510.50 C504.00,502.25 510.08,498.43 517.51,502.01 Z"/></clipPath><linearGradient id="lg12" gradientUnits="userSpaceOnUse" x1="480.0" y1="516.0" x2="536.0" y2="598.0"><stop offset="0.000" stop-color="#8e9299"/><stop offset="0.030" stop-color="#a3a7ae"/><stop offset="0.180" stop-color="#b0b4bb"/><stop offset="0.420" stop-color="#c0c3c9"/><stop offset="0.520" stop-color="#bfc2c8"/><stop offset="0.575" stop-color="#a5a9b0"/><stop offset="0.650" stop-color="#d6d8db"/><stop offset="0.770" stop-color="#8c9097"/><stop offset="0.880" stop-color="#cdcfd2"/><stop offset="0.950" stop-color="#b6b9bd"/><stop offset="1.000" stop-color="#8e9195"/></linearGradient><linearGradient id="lg13" gradientUnits="userSpaceOnUse" x1="546.0" y1="266.0" x2="606.0" y2="291.0"><stop offset="0.000" stop-color="#2c2c2f"/><stop offset="0.300" stop-color="#1f1f21"/><stop offset="0.650" stop-color="#1c1c1e"/><stop offset="0.850" stop-color="#3e3e41"/><stop offset="1.000" stop-color="#262628"/></linearGradient><linearGradient id="bg14" x1="0" y1="0" x2="0.25" y2="1"><stop offset="0" stop-color="#5a5a60" stop-opacity="0.55"/><stop offset="0.35" stop-color="#3a3a3e" stop-opacity="0"/></linearGradient><clipPath id="c15"><path d="M460.27,294.34 L523.23,319.66 C531.90,323.15 539.00,333.65 539.00,343.00 L539.00,360.00 C539.00,369.35 531.96,374.02 523.34,370.37 L460.16,343.63 C451.54,339.98 444.50,329.35 444.50,320.00 L444.50,305.00 C444.50,295.65 451.60,290.85 460.27,294.34 Z"/><path d="M462.22,293.23 L525.00,318.59 C533.63,322.08 540.70,332.55 540.70,341.87 L540.70,358.70 C540.70,368.01 533.68,372.66 525.11,369.03 L462.11,342.37 C453.53,338.74 446.52,328.15 446.52,318.83 L446.52,303.82 C446.52,294.50 453.58,289.74 462.22,293.23 Z"/><path d="M464.16,292.11 L526.77,317.52 C535.37,321.01 542.40,331.46 542.40,340.73 L542.40,357.40 C542.40,366.68 535.41,371.31 526.87,367.69 L464.07,341.11 C455.52,337.49 448.53,326.94 448.53,317.67 L448.53,302.63 C448.53,293.36 455.57,288.62 464.16,292.11 Z"/><path d="M466.11,290.99 L528.54,316.46 C537.10,319.95 544.10,330.36 544.10,339.60 L544.10,356.10 C544.10,365.34 537.14,369.95 528.63,366.35 L466.02,339.85 C457.51,336.25 450.55,325.74 450.55,316.50 L450.55,301.45 C450.55,292.21 457.55,287.50 466.11,290.99 Z"/><path d="M468.05,289.88 L530.32,315.39 C538.83,318.88 545.80,329.26 545.80,338.47 L545.80,354.80 C545.80,364.00 538.87,368.60 530.39,365.01 L467.98,338.59 C459.50,335.00 452.57,324.54 452.57,315.33 L452.57,300.27 C452.57,291.06 459.53,286.39 468.05,289.88 Z"/><path d="M470.00,288.76 L532.09,314.32 C540.56,317.81 547.50,328.17 547.50,337.33 L547.50,353.50 C547.50,362.67 540.59,367.24 532.15,363.67 L469.93,337.33 C461.49,333.76 454.58,323.33 454.58,314.17 L454.58,299.08 C454.58,289.92 461.52,285.27 470.00,288.76 Z"/><path d="M471.94,287.64 L533.86,313.26 C542.30,316.74 549.20,327.07 549.20,336.20 L549.20,352.20 C549.20,361.33 542.32,365.89 533.91,362.33 L471.89,336.07 C463.48,332.51 456.60,322.13 456.60,313.00 L456.60,297.90 C456.60,288.77 463.50,284.16 471.94,287.64 Z"/><path d="M473.88,286.53 L535.63,312.19 C544.03,315.68 550.90,325.97 550.90,335.07 L550.90,350.90 C550.90,359.99 544.05,364.53 535.67,360.99 L473.84,334.81 C465.47,331.27 458.62,320.93 458.62,311.83 L458.62,296.72 C458.62,287.62 465.49,283.04 473.88,286.53 Z"/><path d="M475.83,285.41 L537.40,311.12 C545.76,314.61 552.60,324.88 552.60,333.93 L552.60,349.60 C552.60,358.66 545.78,363.18 537.44,359.65 L475.80,333.55 C467.46,330.02 460.63,319.72 460.63,310.67 L460.63,295.53 C460.63,286.48 467.47,281.92 475.83,285.41 Z"/><path d="M477.77,284.29 L539.18,310.06 C547.49,313.54 554.30,323.78 554.30,332.80 L554.30,348.30 C554.30,357.32 547.50,361.82 539.20,358.31 L477.75,332.29 C469.45,328.78 462.65,318.52 462.65,309.50 L462.65,294.35 C462.65,285.33 469.46,280.81 477.77,284.29 Z"/><path d="M479.72,283.18 L540.95,308.99 C549.23,312.48 556.00,322.68 556.00,331.67 L556.00,347.00 C556.00,355.98 549.23,360.47 540.96,356.97 L479.71,331.03 C471.44,327.53 464.67,317.32 464.67,308.33 L464.67,293.17 C464.67,284.18 471.44,279.69 479.72,283.18 Z"/><path d="M481.66,282.06 L542.72,307.92 C550.96,311.41 557.70,321.59 557.70,330.53 L557.70,345.70 C557.70,354.65 550.96,359.11 542.72,355.62 L481.66,329.78 C473.42,326.29 466.68,316.11 466.68,307.17 L466.68,291.98 C466.68,283.04 473.42,278.57 481.66,282.06 Z"/><path d="M483.61,280.94 L544.49,306.86 C552.69,310.35 559.40,320.49 559.40,329.40 L559.40,344.40 C559.40,353.31 552.69,357.76 544.48,354.28 L483.62,328.52 C475.41,325.04 468.70,314.91 468.70,306.00 L468.70,290.80 C468.70,281.89 475.41,277.45 483.61,280.94 Z"/><path d="M485.55,279.83 L546.27,305.79 C554.42,309.28 561.10,319.39 561.10,328.27 L561.10,343.10 C561.10,351.97 554.41,356.40 546.24,352.94 L485.57,327.26 C477.40,323.80 470.72,313.71 470.72,304.83 L470.72,289.62 C470.72,280.74 477.39,276.34 485.55,279.83 Z"/><path d="M487.49,278.71 L548.04,304.72 C556.16,308.21 562.80,318.30 562.80,327.13 L562.80,341.80 C562.80,350.64 556.14,355.05 548.00,351.60 L487.53,326.00 C479.39,322.55 472.73,312.50 472.73,303.67 L472.73,288.43 C472.73,279.60 479.38,275.22 487.49,278.71 Z"/><path d="M489.44,277.59 L549.81,303.66 C557.89,307.15 564.50,317.20 564.50,326.00 L564.50,340.50 C564.50,349.30 557.87,353.69 549.77,350.26 L489.48,324.74 C481.38,321.31 474.75,311.30 474.75,302.50 L474.75,287.25 C474.75,278.45 481.36,274.10 489.44,277.59 Z"/><path d="M491.38,276.47 L551.58,302.59 C559.62,306.08 566.20,316.10 566.20,324.87 L566.20,339.20 C566.20,347.96 559.60,352.34 551.53,348.92 L491.44,323.48 C483.37,320.06 476.77,310.10 476.77,301.33 L476.77,286.07 C476.77,277.30 483.34,272.99 491.38,276.47 Z"/><path d="M493.33,275.36 L553.36,301.53 C561.35,305.01 567.90,315.01 567.90,323.73 L567.90,337.90 C567.90,346.63 561.33,350.98 553.29,347.58 L493.39,322.22 C485.36,318.82 478.78,308.89 478.78,300.17 L478.78,284.88 C478.78,276.16 485.33,271.87 493.33,275.36 Z"/><path d="M495.27,274.24 L555.13,300.46 C563.09,303.95 569.60,313.91 569.60,322.60 L569.60,336.60 C569.60,345.29 563.05,349.63 555.05,346.24 L495.35,320.96 C487.35,317.57 480.80,307.69 480.80,299.00 L480.80,283.70 C480.80,275.01 487.31,270.75 495.27,274.24 Z"/><path d="M497.22,273.12 L556.90,299.39 C564.82,302.88 571.30,312.81 571.30,321.47 L571.30,335.30 C571.30,343.95 564.78,348.27 556.81,344.90 L497.30,319.70 C489.34,316.33 482.82,306.49 482.82,297.83 L482.82,282.52 C482.82,273.86 489.30,269.64 497.22,273.12 Z"/><path d="M499.16,272.00 L558.67,298.33 C566.55,301.81 573.00,311.72 573.00,320.33 L573.00,334.00 C573.00,342.62 566.51,346.92 558.57,343.56 L499.26,318.44 C491.33,315.08 484.83,305.28 484.83,296.67 L484.83,281.33 C484.83,272.72 491.28,268.52 499.16,272.00 Z"/><path d="M501.11,270.89 L560.44,297.26 C568.29,300.75 574.70,310.62 574.70,319.20 L574.70,332.70 C574.70,341.28 568.24,345.56 560.33,342.22 L501.22,317.18 C493.31,313.84 486.85,304.08 486.85,295.50 L486.85,280.15 C486.85,271.57 493.26,267.40 501.11,270.89 Z"/><path d="M503.05,269.77 L562.22,296.20 C570.02,299.68 576.40,309.52 576.40,318.07 L576.40,331.40 C576.40,339.94 569.96,344.21 562.10,340.88 L503.17,315.92 C495.30,312.59 488.87,302.88 488.87,294.33 L488.87,278.97 C488.87,270.42 495.25,266.28 503.05,269.77 Z"/><path d="M504.99,268.65 L563.99,295.13 C571.75,298.62 578.10,308.43 578.10,316.93 L578.10,330.10 C578.10,338.61 571.69,342.85 563.86,339.54 L505.13,314.66 C497.29,311.35 490.88,301.67 490.88,293.17 L490.88,277.78 C490.88,269.28 497.23,265.17 504.99,268.65 Z"/><path d="M506.94,267.53 L565.76,294.07 C573.48,297.55 579.80,307.33 579.80,315.80 L579.80,328.80 C579.80,337.27 573.42,341.50 565.62,338.19 L507.08,313.41 C499.28,310.10 492.90,300.47 492.90,292.00 L492.90,276.60 C492.90,268.13 499.22,264.05 506.94,267.53 Z"/><path d="M508.88,266.41 L567.53,293.00 C575.22,296.48 581.50,306.23 581.50,314.67 L581.50,327.50 C581.50,335.93 575.15,340.14 567.38,336.85 L509.04,312.15 C501.27,308.86 494.92,299.27 494.92,290.83 L494.92,275.42 C494.92,266.98 501.20,262.93 508.88,266.41 Z"/><path d="M510.83,265.30 L569.31,291.94 C576.95,295.42 583.20,305.14 583.20,313.53 L583.20,326.20 C583.20,334.60 576.87,338.79 569.14,335.51 L510.99,310.89 C503.26,307.61 496.93,298.06 496.93,289.67 L496.93,274.23 C496.93,265.84 503.19,261.81 510.83,265.30 Z"/><path d="M512.77,264.18 L571.08,290.87 C578.68,294.35 584.90,304.04 584.90,312.40 L584.90,324.90 C584.90,333.26 578.60,337.43 570.90,334.17 L512.95,309.63 C505.25,306.37 498.95,296.86 498.95,288.50 L498.95,273.05 C498.95,264.69 505.17,260.70 512.77,264.18 Z"/><path d="M514.71,263.06 L572.85,289.81 C580.41,293.29 586.60,302.94 586.60,311.27 L586.60,323.60 C586.60,331.92 580.33,336.08 572.66,332.83 L514.90,308.37 C507.24,305.12 500.97,295.66 500.97,287.33 L500.97,271.87 C500.97,263.54 507.15,259.58 514.71,263.06 Z"/><path d="M516.66,261.94 L574.62,288.74 C582.15,292.22 588.30,301.85 588.30,310.13 L588.30,322.30 C588.30,330.59 582.06,334.72 574.43,331.49 L516.86,307.11 C509.23,303.88 502.98,294.45 502.98,286.17 L502.98,270.68 C502.98,262.40 509.14,258.46 516.66,261.94 Z"/><path d="M518.60,260.82 L576.40,287.68 C583.88,291.16 590.00,300.75 590.00,309.00 L590.00,321.00 C590.00,329.25 583.78,333.37 576.19,330.15 L518.81,305.85 C511.22,302.63 505.00,293.25 505.00,285.00 L505.00,269.50 C505.00,261.25 511.12,257.34 518.60,260.82 Z"/></clipPath><linearGradient id="lg16" gradientUnits="userSpaceOnUse" x1="481.0" y1="277.0" x2="543.0" y2="366.0"><stop offset="0.000" stop-color="#8e9299"/><stop offset="0.030" stop-color="#a3a7ae"/><stop offset="0.180" stop-color="#b0b4bb"/><stop offset="0.420" stop-color="#c0c3c9"/><stop offset="0.520" stop-color="#bfc2c8"/><stop offset="0.575" stop-color="#a5a9b0"/><stop offset="0.650" stop-color="#d6d8db"/><stop offset="0.770" stop-color="#8c9097"/><stop offset="0.880" stop-color="#cdcfd2"/><stop offset="0.950" stop-color="#b6b9bd"/><stop offset="1.000" stop-color="#8e9195"/></linearGradient><linearGradient id="lg17" gradientUnits="userSpaceOnUse" x1="190.0" y1="580.0" x2="240.0" y2="600.0"><stop offset="0.000" stop-color="#2c2c2f"/><stop offset="0.300" stop-color="#1f1f21"/><stop offset="0.650" stop-color="#1c1c1e"/><stop offset="0.850" stop-color="#3e3e41"/><stop offset="1.000" stop-color="#262628"/></linearGradient><linearGradient id="bg18" x1="0" y1="0" x2="0.25" y2="1"><stop offset="0" stop-color="#5a5a60" stop-opacity="0.55"/><stop offset="0.35" stop-color="#3a3a3e" stop-opacity="0"/></linearGradient><clipPath id="c19"><path d="M74.54,628.39 L122.46,648.11 C135.68,653.55 146.50,669.70 146.50,684.00 L146.50,680.00 C146.50,694.30 135.27,702.72 121.54,698.72 L75.46,685.28 C61.73,681.28 50.50,666.30 50.50,652.00 L50.50,644.50 C50.50,630.20 61.32,622.95 74.54,628.39 Z"/><path d="M77.48,626.25 L125.16,645.83 C138.33,651.24 149.12,667.32 149.12,681.57 L149.12,677.63 C149.12,691.88 137.94,700.24 124.27,696.21 L78.36,682.69 C64.70,678.66 53.52,663.71 53.52,649.47 L53.52,642.32 C53.52,628.07 64.30,620.84 77.48,626.25 Z"/><path d="M80.41,624.11 L127.86,643.55 C140.99,648.93 151.73,664.94 151.73,679.13 L151.73,675.27 C151.73,689.46 140.61,697.75 127.01,693.71 L81.26,680.09 C67.66,676.05 56.53,661.12 56.53,646.93 L56.53,640.13 C56.53,625.94 67.28,618.73 80.41,624.11 Z"/><path d="M83.34,621.97 L130.56,641.28 C143.64,646.62 154.35,662.57 154.35,676.70 L154.35,672.90 C154.35,687.03 143.27,695.27 129.74,691.20 L84.16,677.50 C70.63,673.43 59.55,658.53 59.55,644.40 L59.55,637.95 C59.55,623.82 70.26,616.63 83.34,621.97 Z"/><path d="M86.27,619.83 L133.26,639.00 C146.30,644.32 156.97,660.19 156.97,674.27 L156.97,670.53 C156.97,684.61 145.94,692.79 132.47,688.69 L87.06,674.91 C73.59,670.81 62.57,655.95 62.57,641.87 L62.57,635.77 C62.57,621.69 73.23,614.52 86.27,619.83 Z"/><path d="M89.20,617.69 L135.96,636.72 C148.95,642.01 159.58,657.81 159.58,671.83 L159.58,668.17 C159.58,682.19 148.61,690.30 135.20,686.19 L89.96,672.31 C76.55,668.20 65.58,653.36 65.58,639.33 L65.58,633.58 C65.58,619.56 76.21,612.41 89.20,617.69 Z"/><path d="M92.13,615.55 L138.67,634.45 C151.61,639.70 162.20,655.43 162.20,669.40 L162.20,665.80 C162.20,679.77 151.28,687.82 137.94,683.68 L92.86,669.72 C79.52,665.58 68.60,650.77 68.60,636.80 L68.60,631.40 C68.60,617.43 79.19,610.30 92.13,615.55 Z"/><path d="M95.07,613.41 L141.37,632.17 C154.26,637.39 164.82,653.05 164.82,666.97 L164.82,663.43 C164.82,677.35 153.95,685.33 140.67,681.18 L95.76,667.12 C82.48,662.97 71.62,648.18 71.62,634.27 L71.62,629.22 C71.62,615.30 82.17,608.19 95.07,613.41 Z"/><path d="M98.00,611.27 L144.07,629.89 C156.92,635.08 167.43,650.67 167.43,664.53 L167.43,661.07 C167.43,674.93 156.62,682.85 143.41,678.67 L98.66,664.53 C85.45,660.35 74.63,645.59 74.63,631.73 L74.63,627.03 C74.63,613.17 85.15,606.08 98.00,611.27 Z"/><path d="M100.93,609.13 L146.77,627.62 C159.57,632.78 170.05,648.29 170.05,662.10 L170.05,658.70 C170.05,672.50 159.29,680.36 146.14,676.17 L101.56,661.93 C88.41,657.74 77.65,643.00 77.65,629.20 L77.65,624.85 C77.65,611.04 88.13,603.97 100.93,609.13 Z"/><path d="M103.86,606.99 L149.47,625.34 C162.23,630.47 172.67,645.92 172.67,659.67 L172.67,656.33 C172.67,670.08 161.96,677.88 148.87,673.66 L104.46,659.34 C91.37,655.12 80.67,640.42 80.67,626.67 L80.67,622.67 C80.67,608.92 91.10,601.86 103.86,606.99 Z"/><path d="M106.79,604.85 L152.17,623.06 C164.88,628.16 175.28,643.54 175.28,657.23 L175.28,653.97 C175.28,667.66 164.63,675.40 151.61,671.16 L107.36,656.74 C94.34,652.50 83.68,637.83 83.68,624.13 L83.68,620.48 C83.68,606.79 94.08,599.76 106.79,604.85 Z"/><path d="M109.72,602.71 L154.88,620.79 C167.54,625.85 177.90,641.16 177.90,654.80 L177.90,651.60 C177.90,665.24 167.30,672.91 154.34,668.65 L110.26,654.15 C97.30,649.89 86.70,635.24 86.70,621.60 L86.70,618.30 C86.70,604.66 97.06,597.65 109.72,602.71 Z"/><path d="M112.66,600.57 L157.58,618.51 C170.19,623.55 180.52,638.78 180.52,652.37 L180.52,649.23 C180.52,662.82 169.97,670.43 157.08,666.15 L113.16,651.55 C100.26,647.27 89.72,632.65 89.72,619.07 L89.72,616.12 C89.72,602.53 100.04,595.54 112.66,600.57 Z"/><path d="M115.59,598.43 L160.28,616.23 C172.85,621.24 183.13,636.40 183.13,649.93 L183.13,646.87 C183.13,660.40 172.64,667.95 159.81,663.64 L116.06,648.96 C103.23,644.65 92.73,630.06 92.73,616.53 L92.73,613.93 C92.73,600.40 103.02,593.43 115.59,598.43 Z"/><path d="M118.52,596.29 L162.98,613.96 C175.50,618.93 185.75,634.02 185.75,647.50 L185.75,644.50 C185.75,657.98 175.31,665.46 162.55,661.14 L118.95,646.36 C106.19,642.04 95.75,627.48 95.75,614.00 L95.75,611.75 C95.75,598.27 106.00,591.32 118.52,596.29 Z"/><path d="M121.45,594.15 L165.68,611.68 C178.16,616.62 188.37,631.65 188.37,645.07 L188.37,642.13 C188.37,655.55 177.98,662.98 165.28,658.63 L121.85,643.77 C109.16,639.42 98.77,624.89 98.77,611.47 L98.77,609.57 C98.77,596.15 108.97,589.21 121.45,594.15 Z"/><path d="M124.38,592.01 L168.38,609.40 C180.81,614.31 190.98,629.27 190.98,642.63 L190.98,639.77 C190.98,653.13 180.65,660.49 168.02,656.13 L124.75,641.17 C112.12,636.81 101.78,622.30 101.78,608.93 L101.78,607.38 C101.78,594.02 111.95,587.10 124.38,592.01 Z"/><path d="M127.31,589.87 L171.09,607.13 C183.47,612.01 193.60,626.89 193.60,640.20 L193.60,637.40 C193.60,650.71 183.32,658.01 170.75,653.62 L127.65,638.58 C115.08,634.19 104.80,619.71 104.80,606.40 L104.80,605.20 C104.80,591.89 114.93,584.99 127.31,589.87 Z"/><path d="M130.25,587.73 L173.79,604.85 C186.12,609.70 196.22,624.51 196.22,637.77 L196.22,635.03 C196.22,648.29 185.99,655.53 173.49,651.12 L130.55,635.98 C118.04,631.57 107.82,617.12 107.82,603.87 L107.82,603.02 C107.82,589.76 117.91,582.88 130.25,587.73 Z"/><path d="M133.18,585.59 L176.49,602.57 C188.78,607.39 198.83,622.13 198.83,635.33 L198.83,632.67 C198.83,645.87 188.66,653.04 176.22,648.62 L133.44,633.38 C121.01,628.96 110.83,614.53 110.83,601.33 L110.83,600.83 C110.83,587.63 120.89,580.78 133.18,585.59 Z"/><path d="M136.11,583.45 L179.19,600.30 C191.43,605.08 201.45,619.75 201.45,632.90 L201.45,630.30 C201.45,643.45 191.33,650.56 178.96,646.11 L136.34,630.79 C123.97,626.34 113.85,611.95 113.85,598.80 L113.85,598.65 C113.85,585.50 123.87,578.67 136.11,583.45 Z"/><path d="M139.04,581.31 L181.89,598.02 C194.09,602.78 204.07,617.38 204.07,630.47 L204.07,627.93 C204.07,641.02 194.00,648.08 181.70,643.61 L139.24,628.19 C126.93,623.72 116.87,609.36 116.87,596.27 L116.87,596.47 C116.87,583.38 126.84,576.56 139.04,581.31 Z"/><path d="M141.97,579.17 L184.59,595.74 C196.74,600.47 206.68,615.00 206.68,628.03 L206.68,625.57 C206.68,638.60 196.67,645.59 184.43,641.11 L142.13,625.59 C129.90,621.11 119.88,606.77 119.88,593.73 L119.88,594.28 C119.88,581.25 129.82,574.45 141.97,579.17 Z"/><path d="M144.90,577.03 L187.30,593.47 C199.40,598.16 209.30,612.62 209.30,625.60 L209.30,623.20 C209.30,636.18 199.34,643.11 187.17,638.60 L145.03,623.00 C132.86,618.49 122.90,604.18 122.90,591.20 L122.90,592.10 C122.90,579.12 132.80,572.34 144.90,577.03 Z"/><path d="M147.84,574.89 L190.00,591.19 C202.05,595.85 211.92,610.24 211.92,623.17 L211.92,620.83 C211.92,633.76 202.01,640.63 189.91,636.10 L147.93,620.40 C135.82,615.87 125.92,601.59 125.92,588.67 L125.92,589.92 C125.92,576.99 135.78,570.23 147.84,574.89 Z"/><path d="M150.77,572.75 L192.70,588.92 C204.71,593.55 214.53,607.86 214.53,620.73 L214.53,618.47 C214.53,631.34 204.68,638.15 192.64,633.60 L150.82,617.80 C138.78,613.25 128.93,599.00 128.93,586.13 L128.93,587.73 C128.93,574.86 138.76,568.12 150.77,572.75 Z"/><path d="M153.70,570.61 L195.40,586.64 C207.36,591.24 217.15,605.49 217.15,618.30 L217.15,616.10 C217.15,628.91 207.35,635.66 195.38,631.10 L153.72,615.20 C141.75,610.64 131.95,596.41 131.95,583.60 L131.95,585.55 C131.95,572.74 141.74,566.01 153.70,570.61 Z"/><path d="M156.63,568.47 L198.10,584.36 C210.02,588.93 219.77,603.11 219.77,615.87 L219.77,613.73 C219.77,626.49 210.02,633.18 198.12,628.59 L156.62,612.61 C144.71,608.02 134.97,593.83 134.97,581.07 L134.97,583.37 C134.97,570.61 144.72,563.90 156.63,568.47 Z"/><path d="M159.56,566.33 L200.80,582.09 C212.67,586.62 222.38,600.73 222.38,613.43 L222.38,611.37 C222.38,624.07 212.70,630.70 200.85,626.09 L159.51,610.01 C147.67,605.40 137.98,591.24 137.98,578.53 L137.98,581.18 C137.98,568.48 147.69,561.79 159.56,566.33 Z"/><path d="M162.49,564.19 L203.51,579.81 C215.33,584.32 225.00,598.35 225.00,611.00 L225.00,609.00 C225.00,621.65 215.37,628.22 203.59,623.59 L162.41,607.41 C150.63,602.78 141.00,588.65 141.00,576.00 L141.00,579.00 C141.00,566.35 150.67,559.68 162.49,564.19 Z"/></clipPath><linearGradient id="lg20" gradientUnits="userSpaceOnUse" x1="95.0" y1="590.0" x2="160.0" y2="676.0"><stop offset="0.000" stop-color="#8e9299"/><stop offset="0.030" stop-color="#a3a7ae"/><stop offset="0.180" stop-color="#b0b4bb"/><stop offset="0.420" stop-color="#c0c3c9"/><stop offset="0.520" stop-color="#bfc2c8"/><stop offset="0.575" stop-color="#a5a9b0"/><stop offset="0.650" stop-color="#d6d8db"/><stop offset="0.770" stop-color="#8c9097"/><stop offset="0.880" stop-color="#cdcfd2"/><stop offset="0.950" stop-color="#b6b9bd"/><stop offset="1.000" stop-color="#8e9195"/></linearGradient></defs><rect width="800" height="800" fill="#e3e7ea"/><rect x="0" y="518" width="1.3" height="224" fill="#f7f9fa"/><g filter="url(#hb)" fill="#f4f6f7" stroke="#f4f6f7" stroke-width="5" stroke-linejoin="round" opacity="0.9"><path d="M63.28,132.31 L124.22,156.69 C132.90,160.16 140.00,170.65 140.00,180.00 L140.00,190.00 C140.00,199.35 133.01,203.90 124.46,200.11 L63.04,172.89 C54.49,169.10 47.50,158.35 47.50,149.00 L47.50,143.00 C47.50,133.65 54.60,128.84 63.28,132.31 Z"/><path d="M73.16,126.11 L133.43,150.98 C141.90,154.47 148.83,164.83 148.83,174.00 L148.83,183.00 C148.83,192.17 141.98,196.63 133.59,192.92 L72.99,166.08 C64.61,162.37 57.75,151.83 57.75,142.67 L57.75,136.42 C57.75,127.25 64.68,122.61 73.16,126.11 Z"/><path d="M83.03,119.90 L142.64,145.27 C150.90,148.79 157.67,159.02 157.67,168.00 L157.67,176.00 C157.67,184.98 150.95,189.36 142.73,185.73 L82.94,159.27 C74.72,155.64 68.00,145.32 68.00,136.33 L68.00,129.83 C68.00,120.85 74.76,116.38 83.03,119.90 Z"/><path d="M92.90,113.68 L151.85,139.57 C159.91,143.11 166.50,153.20 166.50,162.00 L166.50,169.00 C166.50,177.80 159.91,182.09 151.87,178.53 L92.88,152.47 C84.84,148.91 78.25,138.80 78.25,130.00 L78.25,123.25 C78.25,114.45 84.84,110.14 92.90,113.68 Z"/><path d="M102.77,107.46 L161.06,133.87 C168.91,137.42 175.33,147.38 175.33,156.00 L175.33,162.00 C175.33,170.62 168.88,174.82 161.00,171.34 L102.83,145.66 C94.95,142.18 88.50,132.28 88.50,123.67 L88.50,116.67 C88.50,108.05 94.92,103.91 102.77,107.46 Z"/><path d="M112.64,101.24 L170.28,128.18 C177.92,131.75 184.17,141.57 184.17,150.00 L184.17,155.00 C184.17,163.43 177.85,167.55 170.14,164.15 L112.78,138.85 C105.06,135.45 98.75,125.77 98.75,117.33 L98.75,110.08 C98.75,101.65 105.00,97.67 112.64,101.24 Z"/><path d="M122.51,95.01 L179.49,122.49 C186.92,126.07 193.00,135.75 193.00,144.00 L193.00,148.00 C193.00,156.25 186.82,160.28 179.27,156.95 L122.73,132.05 C115.18,128.72 109.00,119.25 109.00,111.00 L109.00,103.50 C109.00,95.25 115.08,91.43 122.51,95.01 Z"/><path transform="translate(0.0,0.0)" d="M112,92 C120,84 135,78 149,78.8 C158,79 166,82 172,85 C178,86 184,86 189,87 L209,99 C212,103 213,110 212.5,117.5 C212,128 209,138 204,146 C200,152 196,156 192,158 L150,140 Z"/></g><g transform="translate(0.0,0.0)"><path d="M189,86.8 L202,78.3 L224.7,86.8 C228.5,88 230,92 228.5,95 L213,105 C211.5,106 210,105.5 209.6,104 Z" fill="#c4942a"/><path d="M189,86.8 L202,78.3 L224.7,86.8 L209.6,98.2 Z" fill="#e5ca86" stroke="#c9a24a" stroke-width="0.8"/><path d="M210.5,100 L226,89" stroke="#fbeab0" stroke-width="2.2"/></g><g transform="translate(0.0,0.0)"><path d="M112,92 C120,84 135,78 149,78.8 C158,79 166,82 172,85 C178,86 184,86 189,87 L209,99 C212,103 213,110 212.5,117.5 C212,128 209,138 204,146 C200,152 196,156 192,158 L150,140 Z" fill="url(#lg1)"/><path d="M112,92 C120,84 135,78 149,78.8 C158,79 166,82 172,85 C178,86 184,86 189,87 L209,99 C212,103 213,110 212.5,117.5 C212,128 209,138 204,146 C200,152 196,156 192,158 L150,140 Z" fill="url(#bg2)"/><ellipse cx="0" cy="0" rx="8.0" ry="2.0" transform="translate(197.0,119.0) rotate(-32.0)" fill="#9a9aa0" opacity="0.45" filter="url(#hs)"/></g><rect x="0" y="0" width="800" height="800" fill="url(#lg4)" clip-path="url(#c3)"/><path d="M63.28,132.31 L124.22,156.69 C132.90,160.16 140.00,170.65 140.00,180.00 L140.00,190.00 C140.00,199.35 133.01,203.90 124.46,200.11 L63.04,172.89 C54.49,169.10 47.50,158.35 47.50,149.00 L47.50,143.00 C47.50,133.65 54.60,128.84 63.28,132.31 Z" fill="#8e9094"/><path d="M63.34,133.20 L124.16,157.53 C132.43,160.83 139.20,170.83 139.20,179.74 L139.20,189.57 C139.20,198.48 132.54,202.82 124.39,199.21 L63.11,172.04 C54.96,168.43 48.30,158.19 48.30,149.28 L48.30,143.38 C48.30,134.47 55.07,129.89 63.34,133.20 Z" fill="#eef0f2"/><path d="M63.43,134.64 L124.07,158.89 C131.67,161.93 137.90,171.13 137.90,179.32 L137.90,188.87 C137.90,197.07 131.77,201.06 124.28,197.73 L63.22,170.67 C55.73,167.35 49.60,157.93 49.60,149.73 L49.60,144.00 C49.60,135.81 55.83,131.59 63.43,134.64 Z" fill="#3a3b3f"/><path d="M63.48,135.41 L124.02,159.62 C131.27,162.52 137.20,171.29 137.20,179.10 L137.20,188.50 C137.20,196.31 131.36,200.11 124.22,196.94 L63.28,169.93 C56.14,166.77 50.30,157.79 50.30,149.98 L50.30,144.34 C50.30,136.53 56.23,132.51 63.48,135.41 Z" fill="#68696d"/><path d="M63.55,136.40 L123.95,160.57 C130.74,163.28 136.30,171.49 136.30,178.81 L136.30,188.01 C136.30,195.33 130.83,198.89 124.14,195.92 L63.36,168.98 C56.67,166.02 51.20,157.61 51.20,150.29 L51.20,144.77 C51.20,137.45 56.76,133.69 63.55,136.40 Z" fill="#47484c"/><g transform="translate(0.0,0.0)"><path d="M62.5,144 L125.5,171.5 L125.5,184.5 L118.5,187.5 L72,167.2 L63.5,155 Z" fill="#b89a5e"/><path d="M62.3,143.5 L125.7,171 L125.7,173.2 L62.3,145.7 Z" fill="#141210"/><path d="M63.6,145.6 L124.5,172.2 L124.5,184 L118.3,186.4 L72.4,166.2 L64.6,154.8 Z" fill="#1a130b"/><path d="M69,156 L124.5,179 L124.5,184 L118.3,186 L73,165.8 Z" fill="#42321a"/><path d="M84,158.5 l6,2.6 l0,3.6 l-6,-2.6 Z M105.5,168 l6,2.6 l0,3.6 l-6,-2.6 Z" fill="#8a6f3f"/></g><text transform="matrix(0.993,0.427,-0.800,0.600,115.5,118.0)" font-size="12.5" font-weight="bold" font-family="Liberation Serif" fill="#1e1e21" stroke="#1e1e21" stroke-width="0.30">4K</text><text transform="matrix(1.379,0.593,-0.800,0.600,105.5,121.5)" font-size="6.5" font-weight="normal" font-family="Liberation Sans" fill="#1e1e21" stroke="#1e1e21" stroke-width="0.30">60HZ</text><text transform="matrix(1.489,0.640,-0.800,0.600,90.5,128.5)" font-size="7.8" font-weight="bold" font-family="Liberation Sans" fill="#1e1e21" stroke="#1e1e21" stroke-width="0.30">HDMI</text><path transform="translate(97.0,134.8) scale(1.00)" d="M0,0 L8.8,3.6 L0.6,5.6 Z" fill="#1e1e21"/><g filter="url(#hb)" fill="#f4f6f7" stroke="#f4f6f7" stroke-width="5" stroke-linejoin="round" opacity="0.9"><path d="M63.28,382.31 L124.22,406.69 C132.90,410.16 140.00,420.65 140.00,430.00 L140.00,440.00 C140.00,449.35 133.01,453.90 124.46,450.11 L63.04,422.89 C54.49,419.10 47.50,408.35 47.50,399.00 L47.50,393.00 C47.50,383.65 54.60,378.84 63.28,382.31 Z"/><path d="M73.16,376.11 L133.43,400.98 C141.90,404.47 148.83,414.83 148.83,424.00 L148.83,433.00 C148.83,442.17 141.98,446.63 133.59,442.92 L72.99,416.08 C64.61,412.37 57.75,401.83 57.75,392.67 L57.75,386.42 C57.75,377.25 64.68,372.61 73.16,376.11 Z"/><path d="M83.03,369.90 L142.64,395.27 C150.90,398.79 157.67,409.02 157.67,418.00 L157.67,426.00 C157.67,434.98 150.95,439.36 142.73,435.73 L82.94,409.27 C74.72,405.64 68.00,395.32 68.00,386.33 L68.00,379.83 C68.00,370.85 74.76,366.38 83.03,369.90 Z"/><path d="M92.90,363.68 L151.85,389.57 C159.91,393.11 166.50,403.20 166.50,412.00 L166.50,419.00 C166.50,427.80 159.91,432.09 151.87,428.53 L92.88,402.47 C84.84,398.91 78.25,388.80 78.25,380.00 L78.25,373.25 C78.25,364.45 84.84,360.14 92.90,363.68 Z"/><path d="M102.77,357.46 L161.06,383.87 C168.91,387.42 175.33,397.38 175.33,406.00 L175.33,412.00 C175.33,420.62 168.88,424.82 161.00,421.34 L102.83,395.66 C94.95,392.18 88.50,382.28 88.50,373.67 L88.50,366.67 C88.50,358.05 94.92,353.91 102.77,357.46 Z"/><path d="M112.64,351.24 L170.28,378.18 C177.92,381.75 184.17,391.57 184.17,400.00 L184.17,405.00 C184.17,413.43 177.85,417.55 170.14,414.15 L112.78,388.85 C105.06,385.45 98.75,375.77 98.75,367.33 L98.75,360.08 C98.75,351.65 105.00,347.67 112.64,351.24 Z"/><path d="M122.51,345.01 L179.49,372.49 C186.92,376.07 193.00,385.75 193.00,394.00 L193.00,398.00 C193.00,406.25 186.82,410.28 179.27,406.95 L122.73,382.05 C115.18,378.72 109.00,369.25 109.00,361.00 L109.00,353.50 C109.00,345.25 115.08,341.43 122.51,345.01 Z"/><path transform="translate(0.0,250.0)" d="M112,92 C120,84 135,78 149,78.8 C158,79 166,82 172,85 C178,86 184,86 189,87 L209,99 C212,103 213,110 212.5,117.5 C212,128 209,138 204,146 C200,152 196,156 192,158 L150,140 Z"/></g><g transform="translate(0.0,250.0)"><path d="M189,86.8 L202,78.3 L224.7,86.8 C228.5,88 230,92 228.5,95 L213,105 C211.5,106 210,105.5 209.6,104 Z" fill="#c4942a"/><path d="M189,86.8 L202,78.3 L224.7,86.8 L209.6,98.2 Z" fill="#e5ca86" stroke="#c9a24a" stroke-width="0.8"/><path d="M210.5,100 L226,89" stroke="#fbeab0" stroke-width="2.2"/></g><g transform="translate(0.0,250.0)"><path d="M112,92 C120,84 135,78 149,78.8 C158,79 166,82 172,85 C178,86 184,86 189,87 L209,99 C212,103 213,110 212.5,117.5 C212,128 209,138 204,146 C200,152 196,156 192,158 L150,140 Z" fill="url(#lg5)"/><path d="M112,92 C120,84 135,78 149,78.8 C158,79 166,82 172,85 C178,86 184,86 189,87 L209,99 C212,103 213,110 212.5,117.5 C212,128 209,138 204,146 C200,152 196,156 192,158 L150,140 Z" fill="url(#bg6)"/><ellipse cx="0" cy="0" rx="8.0" ry="2.0" transform="translate(197.0,119.0) rotate(-32.0)" fill="#9a9aa0" opacity="0.45" filter="url(#hs)"/></g><rect x="0" y="0" width="800" height="800" fill="url(#lg8)" clip-path="url(#c7)"/><path d="M63.28,382.31 L124.22,406.69 C132.90,410.16 140.00,420.65 140.00,430.00 L140.00,440.00 C140.00,449.35 133.01,453.90 124.46,450.11 L63.04,422.89 C54.49,419.10 47.50,408.35 47.50,399.00 L47.50,393.00 C47.50,383.65 54.60,378.84 63.28,382.31 Z" fill="#8e9094"/><path d="M63.34,383.20 L124.16,407.53 C132.43,410.83 139.20,420.83 139.20,429.74 L139.20,439.57 C139.20,448.48 132.54,452.82 124.39,449.21 L63.11,422.04 C54.96,418.43 48.30,408.19 48.30,399.28 L48.30,393.38 C48.30,384.47 55.07,379.89 63.34,383.20 Z" fill="#eef0f2"/><path d="M63.43,384.64 L124.07,408.89 C131.67,411.93 137.90,421.13 137.90,429.32 L137.90,438.87 C137.90,447.07 131.77,451.06 124.28,447.73 L63.22,420.67 C55.73,417.35 49.60,407.93 49.60,399.73 L49.60,394.00 C49.60,385.81 55.83,381.59 63.43,384.64 Z" fill="#3a3b3f"/><path d="M63.48,385.41 L124.02,409.62 C131.27,412.52 137.20,421.29 137.20,429.10 L137.20,438.50 C137.20,446.31 131.36,450.11 124.22,446.94 L63.28,419.93 C56.14,416.77 50.30,407.79 50.30,399.98 L50.30,394.34 C50.30,386.53 56.23,382.51 63.48,385.41 Z" fill="#68696d"/><path d="M63.55,386.40 L123.95,410.57 C130.74,413.28 136.30,421.49 136.30,428.81 L136.30,438.01 C136.30,445.33 130.83,448.89 124.14,445.92 L63.36,418.98 C56.67,416.02 51.20,407.61 51.20,400.29 L51.20,394.77 C51.20,387.45 56.76,383.69 63.55,386.40 Z" fill="#47484c"/><g><path d="M73.5,399.6 L106.5,413.8 L106.5,429.6 L102,430.9 L77.2,420.3 L73.9,414.3 Z" fill="#d0b47c"/><path d="M73.3,399 L106.7,413.2 L106.7,416 L73.3,401.8 Z" fill="#141210"/><path d="M74.9,401.5 L105.3,414.6 L105.3,428.7 L102,429.6 L77.9,419.4 L75.2,414.4 Z" fill="#1d150c"/><path d="M76,410 L105.3,422 L105.3,428.7 L102,429.6 L77.9,419.4 L76,416 Z" fill="#3e2f18"/></g><text transform="matrix(1.470,0.632,-0.800,0.600,105.5,374.0)" font-size="11.5" font-weight="bold" font-family="Liberation Serif" fill="#1e1e21" stroke="#1e1e21" stroke-width="0.45">8K</text><text transform="matrix(1.470,0.632,-0.800,0.600,84.0,378.5)" font-size="8.5" font-weight="normal" font-family="Liberation Serif" fill="#1e1e21" stroke="#1e1e21" stroke-width="0.45">mDP1.4</text><path transform="translate(96.0,387.0) scale(1.00)" d="M0,0 L8.8,3.6 L0.6,5.6 Z" fill="#1e1e21"/><g filter="url(#hb)" fill="#f4f6f7" stroke="#f4f6f7" stroke-width="5" stroke-linejoin="round" opacity="0.9"><path d="M458.28,537.31 L519.22,561.69 C527.90,565.16 535.00,575.65 535.00,585.00 L535.00,595.00 C535.00,604.35 528.01,608.90 519.46,605.11 L458.04,577.89 C449.49,574.10 442.50,563.35 442.50,554.00 L442.50,548.00 C442.50,538.65 449.60,533.84 458.28,537.31 Z"/><path d="M468.16,531.44 L528.43,556.31 C536.90,559.81 543.83,570.17 543.83,579.33 L543.83,588.33 C543.83,597.50 536.98,601.96 528.59,598.25 L467.99,571.41 C459.61,567.70 452.75,557.17 452.75,548.00 L452.75,541.75 C452.75,532.58 459.68,527.94 468.16,531.44 Z"/><path d="M478.03,525.56 L537.64,550.94 C545.90,554.45 552.67,564.68 552.67,573.67 L552.67,581.67 C552.67,590.65 545.95,595.03 537.73,591.39 L477.94,564.94 C469.72,561.31 463.00,550.98 463.00,542.00 L463.00,535.50 C463.00,526.52 469.76,522.05 478.03,525.56 Z"/><path d="M487.90,519.68 L546.85,545.57 C554.91,549.11 561.50,559.20 561.50,568.00 L561.50,575.00 C561.50,583.80 554.91,588.09 546.87,584.53 L487.88,558.47 C479.84,554.91 473.25,544.80 473.25,536.00 L473.25,529.25 C473.25,520.45 479.84,516.14 487.90,519.68 Z"/><path d="M497.77,513.80 L556.06,540.20 C563.91,543.76 570.33,553.72 570.33,562.33 L570.33,568.33 C570.33,576.95 563.88,581.15 556.00,577.67 L497.83,551.99 C489.95,548.51 483.50,538.62 483.50,530.00 L483.50,523.00 C483.50,514.38 489.92,510.24 497.77,513.80 Z"/><path d="M507.64,507.91 L565.28,534.84 C572.92,538.41 579.17,548.23 579.17,556.67 L579.17,561.67 C579.17,570.10 572.85,574.22 565.14,570.81 L507.78,545.52 C500.06,542.12 493.75,532.43 493.75,524.00 L493.75,516.75 C493.75,508.32 500.00,504.34 507.64,507.91 Z"/><path d="M517.51,502.01 L574.49,529.49 C581.92,533.07 588.00,542.75 588.00,551.00 L588.00,555.00 C588.00,563.25 581.82,567.28 574.27,563.95 L517.73,539.05 C510.18,535.72 504.00,526.25 504.00,518.00 L504.00,510.50 C504.00,502.25 510.08,498.43 517.51,502.01 Z"/><path transform="translate(395.0,407.0)" d="M112,92 C120,84 135,78 149,78.8 C158,79 166,82 172,85 C178,86 184,86 189,87 L209,99 C212,103 213,110 212.5,117.5 C212,128 209,138 204,146 C200,152 196,156 192,158 L150,140 Z"/></g><g transform="translate(395.0,407.0)"><path d="M189,86.8 L202,78.3 L224.7,86.8 C228.5,88 230,92 228.5,95 L213,105 C211.5,106 210,105.5 209.6,104 Z" fill="#c4942a"/><path d="M189,86.8 L202,78.3 L224.7,86.8 L209.6,98.2 Z" fill="#e5ca86" stroke="#c9a24a" stroke-width="0.8"/><path d="M210.5,100 L226,89" stroke="#fbeab0" stroke-width="2.2"/></g><g transform="translate(395.0,407.0)"><path d="M112,92 C120,84 135,78 149,78.8 C158,79 166,82 172,85 C178,86 184,86 189,87 L209,99 C212,103 213,110 212.5,117.5 C212,128 209,138 204,146 C200,152 196,156 192,158 L150,140 Z" fill="url(#lg9)"/><path d="M112,92 C120,84 135,78 149,78.8 C158,79 166,82 172,85 C178,86 184,86 189,87 L209,99 C212,103 213,110 212.5,117.5 C212,128 209,138 204,146 C200,152 196,156 192,158 L150,140 Z" fill="url(#bg10)"/><ellipse cx="0" cy="0" rx="8.0" ry="2.0" transform="translate(197.0,119.0) rotate(-32.0)" fill="#9a9aa0" opacity="0.45" filter="url(#hs)"/></g><rect x="0" y="0" width="800" height="800" fill="url(#lg12)" clip-path="url(#c11)"/><path d="M458.28,537.31 L519.22,561.69 C527.90,565.16 535.00,575.65 535.00,585.00 L535.00,595.00 C535.00,604.35 528.01,608.90 519.46,605.11 L458.04,577.89 C449.49,574.10 442.50,563.35 442.50,554.00 L442.50,548.00 C442.50,538.65 449.60,533.84 458.28,537.31 Z" fill="#8e9094"/><path d="M458.34,538.20 L519.16,562.53 C527.43,565.83 534.20,575.83 534.20,584.74 L534.20,594.57 C534.20,603.48 527.54,607.82 519.39,604.21 L458.11,577.04 C449.96,573.43 443.30,563.19 443.30,554.28 L443.30,548.38 C443.30,539.47 450.07,534.89 458.34,538.20 Z" fill="#eef0f2"/><path d="M458.43,539.64 L519.07,563.89 C526.67,566.93 532.90,576.13 532.90,584.32 L532.90,593.87 C532.90,602.07 526.77,606.06 519.28,602.73 L458.22,575.67 C450.73,572.35 444.60,562.93 444.60,554.73 L444.60,549.00 C444.60,540.81 450.83,536.59 458.43,539.64 Z" fill="#3a3b3f"/><path d="M458.48,540.41 L519.02,564.62 C526.27,567.52 532.20,576.29 532.20,584.10 L532.20,593.50 C532.20,601.31 526.36,605.11 519.22,601.94 L458.28,574.93 C451.14,571.77 445.30,562.79 445.30,554.98 L445.30,549.34 C445.30,541.53 451.23,537.51 458.48,540.41 Z" fill="#68696d"/><path d="M458.55,541.40 L518.95,565.57 C525.74,568.28 531.30,576.49 531.30,583.81 L531.30,593.01 C531.30,600.33 525.83,603.89 519.14,600.92 L458.36,573.98 C451.67,571.02 446.20,562.61 446.20,555.29 L446.20,549.77 C446.20,542.45 451.76,538.69 458.55,541.40 Z" fill="#47484c"/><g><path d="M454.5,549 L519,577 L519,596.5 L463,572 L455,559 Z" fill="#bca068"/><path d="M454.3,548.5 L519.2,576.5 L519.2,579.5 L454.3,551.5 Z" fill="#141210"/><path d="M456,551 L517.8,578 L517.8,594.8 L463.6,570.8 L456.3,558.8 Z" fill="#1d150c"/><path d="M461,563 L517.8,586 L517.8,594.8 L463.6,570.8 Z" fill="#42321a"/><path d="M477,566 l6.5,2.8 l0,4 l-6.5,-2.8 Z M497,575 l6.5,2.8 l0,4 l-6.5,-2.8 Z" fill="#9a7d48"/></g><text transform="matrix(1.470,0.632,-0.800,0.600,500.5,527.5)" font-size="11.5" font-weight="bold" font-family="Liberation Serif" fill="#1e1e21" stroke="#1e1e21" stroke-width="0.50">8K</text><text transform="matrix(1.379,0.593,-0.800,0.600,484.5,535.0)" font-size="8.3" font-weight="normal" font-family="Liberation Sans" fill="#1e1e21" stroke="#1e1e21" stroke-width="0.50">DP1.4</text><path transform="translate(491.0,541.0) scale(1.00)" d="M0,0 L8.8,3.6 L0.6,5.6 Z" fill="#1e1e21"/><g filter="url(#hb)" fill="#f4f6f7" stroke="#f4f6f7" stroke-width="5" stroke-linejoin="round" opacity="0.9"><path d="M460.27,294.34 L523.23,319.66 C531.90,323.15 539.00,333.65 539.00,343.00 L539.00,360.00 C539.00,369.35 531.96,374.02 523.34,370.37 L460.16,343.63 C451.54,339.98 444.50,329.35 444.50,320.00 L444.50,305.00 C444.50,295.65 451.60,290.85 460.27,294.34 Z"/><path d="M470.00,288.76 L532.09,314.32 C540.56,317.81 547.50,328.17 547.50,337.33 L547.50,353.50 C547.50,362.67 540.59,367.24 532.15,363.67 L469.93,337.33 C461.49,333.76 454.58,323.33 454.58,314.17 L454.58,299.08 C454.58,289.92 461.52,285.27 470.00,288.76 Z"/><path d="M479.72,283.18 L540.95,308.99 C549.23,312.48 556.00,322.68 556.00,331.67 L556.00,347.00 C556.00,355.98 549.23,360.47 540.96,356.97 L479.71,331.03 C471.44,327.53 464.67,317.32 464.67,308.33 L464.67,293.17 C464.67,284.18 471.44,279.69 479.72,283.18 Z"/><path d="M489.44,277.59 L549.81,303.66 C557.89,307.15 564.50,317.20 564.50,326.00 L564.50,340.50 C564.50,349.30 557.87,353.69 549.77,350.26 L489.48,324.74 C481.38,321.31 474.75,311.30 474.75,302.50 L474.75,287.25 C474.75,278.45 481.36,274.10 489.44,277.59 Z"/><path d="M499.16,272.00 L558.67,298.33 C566.55,301.81 573.00,311.72 573.00,320.33 L573.00,334.00 C573.00,342.62 566.51,346.92 558.57,343.56 L499.26,318.44 C491.33,315.08 484.83,305.28 484.83,296.67 L484.83,281.33 C484.83,272.72 491.28,268.52 499.16,272.00 Z"/><path d="M508.88,266.41 L567.53,293.00 C575.22,296.48 581.50,306.23 581.50,314.67 L581.50,327.50 C581.50,335.93 575.15,340.14 567.38,336.85 L509.04,312.15 C501.27,308.86 494.92,299.27 494.92,290.83 L494.92,275.42 C494.92,266.98 501.20,262.93 508.88,266.41 Z"/><path d="M518.60,260.82 L576.40,287.68 C583.88,291.16 590.00,300.75 590.00,309.00 L590.00,321.00 C590.00,329.25 583.78,333.37 576.19,330.15 L518.81,305.85 C511.22,302.63 505.00,293.25 505.00,285.00 L505.00,269.50 C505.00,261.25 511.12,257.34 518.60,260.82 Z"/><path transform="" d="M508,258 C516,250 531,244 545,244.8 C554,245 562,248 568,251 C574,252 580,252 585,253 L605,265 C608,269 609,276 608.5,283.5 C608,294 606,303 602,310 C599,315 596,318 591,322 L546,306 Z"/></g><g transform="translate(397.0,167.5)"><path d="M189,86.8 L202,78.3 L224.7,86.8 C228.5,88 230,92 228.5,95 L213,105 C211.5,106 210,105.5 209.6,104 Z" fill="#c4942a"/><path d="M189,86.8 L202,78.3 L224.7,86.8 L209.6,98.2 Z" fill="#e5ca86" stroke="#c9a24a" stroke-width="0.8"/><path d="M210.5,100 L226,89" stroke="#fbeab0" stroke-width="2.2"/></g><path d="M508,258 C516,250 531,244 545,244.8 C554,245 562,248 568,251 C574,252 580,252 585,253 L605,265 C608,269 609,276 608.5,283.5 C608,294 606,303 602,310 C599,315 596,318 591,322 L546,306 Z" fill="url(#lg13)"/><path d="M508,258 C516,250 531,244 545,244.8 C554,245 562,248 568,251 C574,252 580,252 585,253 L605,265 C608,269 609,276 608.5,283.5 C608,294 606,303 602,310 C599,315 596,318 591,322 L546,306 Z" fill="url(#bg14)"/><ellipse cx="0" cy="0" rx="8.0" ry="2.0" transform="translate(593.0,285.0) rotate(-32.0)" fill="#9a9aa0" opacity="0.45" filter="url(#hs)"/><rect x="0" y="0" width="800" height="800" fill="url(#lg16)" clip-path="url(#c15)"/><path d="M460.27,294.34 L523.23,319.66 C531.90,323.15 539.00,333.65 539.00,343.00 L539.00,360.00 C539.00,369.35 531.96,374.02 523.34,370.37 L460.16,343.63 C451.54,339.98 444.50,329.35 444.50,320.00 L444.50,305.00 C444.50,295.65 451.60,290.85 460.27,294.34 Z" fill="#8e9094"/><path d="M460.33,295.23 L523.17,320.50 C531.44,323.82 538.20,333.83 538.20,342.74 L538.20,359.59 C538.20,368.50 531.49,372.95 523.28,369.48 L460.22,342.78 C452.01,339.31 445.30,329.18 445.30,320.27 L445.30,305.38 C445.30,296.47 452.06,291.90 460.33,295.23 Z" fill="#eef0f2"/><path d="M460.42,296.67 L523.08,321.86 C530.68,324.92 536.90,334.12 536.90,342.32 L536.90,358.93 C536.90,367.13 530.73,371.22 523.18,368.02 L460.32,341.42 C452.77,338.22 446.60,328.90 446.60,320.71 L446.60,306.01 C446.60,297.81 452.82,293.61 460.42,296.67 Z" fill="#3a3b3f"/><path d="M460.47,297.44 L523.03,322.59 C530.27,325.51 536.20,334.28 536.20,342.09 L536.20,358.57 C536.20,366.38 530.32,370.28 523.12,367.24 L460.38,340.68 C453.18,337.64 447.30,328.75 447.30,320.94 L447.30,306.34 C447.30,298.53 453.23,294.53 460.47,297.44 Z" fill="#68696d"/><path d="M460.54,298.44 L522.96,323.54 C529.75,326.27 535.30,334.49 535.30,341.80 L535.30,358.12 C535.30,365.43 529.79,369.08 523.05,366.23 L460.45,339.73 C453.71,336.88 448.20,328.56 448.20,321.25 L448.20,306.78 C448.20,299.46 453.75,295.71 460.54,298.44 Z" fill="#3d3d40"/><g><path d="M466.89,303.57 L519.61,325.43 C523.67,327.12 526.55,332.07 525.99,336.44 L524.01,352.06 C523.45,356.43 519.55,358.98 515.33,357.73 L471.67,344.77 C467.45,343.52 463.62,338.92 463.15,334.55 L460.35,308.45 C459.88,304.08 462.83,301.88 466.89,303.57 Z" fill="#29292b"/><path d="M468.12,307.40 L518.38,328.10 C520.92,329.14 522.60,332.21 522.11,334.92 L519.39,350.08 C518.90,352.79 516.34,354.36 513.71,353.58 L472.79,341.42 C470.16,340.64 467.71,337.77 467.35,335.04 L464.15,310.46 C463.79,307.73 465.58,306.36 468.12,307.40 Z" fill="#c9a440"/><path d="M468.27,308.00 L518.28,328.60 C520.56,329.54 522.08,332.30 521.64,334.74 L518.90,349.93 C518.47,352.37 516.17,353.79 513.79,353.08 L472.77,340.89 C470.39,340.19 468.19,337.61 467.87,335.15 L464.69,310.75 C464.37,308.30 465.98,307.06 468.27,308.00 Z" fill="#f5df98"/><path d="M468.59,309.00 L518.02,329.36 C519.95,330.15 521.23,332.49 520.86,334.54 L518.15,349.60 C517.78,351.66 515.84,352.85 513.84,352.26 L472.82,340.08 C470.82,339.48 468.96,337.30 468.69,335.23 L465.57,311.32 C465.30,309.25 466.66,308.21 468.59,309.00 Z" fill="#c09a38"/><path d="M469.07,310.28 L517.63,330.28 C519.16,330.91 520.17,332.75 519.88,334.37 L517.22,349.11 C516.93,350.73 515.40,351.68 513.82,351.21 L472.96,339.07 C471.38,338.61 469.91,336.88 469.70,335.25 L466.68,312.11 C466.47,310.48 467.54,309.65 469.07,310.28 Z" fill="#3a3c41"/><circle cx="473.0" cy="314.0" r="1.6" fill="#1a1a1c"/><circle cx="472.6" cy="314.5" r="0.7" fill="#8a8a8a"/><circle cx="480.6" cy="317.3" r="1.6" fill="#1a1a1c"/><circle cx="480.2" cy="317.8" r="0.7" fill="#8a8a8a"/><circle cx="488.3" cy="320.6" r="1.6" fill="#1a1a1c"/><circle cx="487.9" cy="321.1" r="0.7" fill="#8a8a8a"/><circle cx="495.9" cy="323.8" r="1.6" fill="#1a1a1c"/><circle cx="495.5" cy="324.3" r="0.7" fill="#8a8a8a"/><circle cx="503.5" cy="327.1" r="1.6" fill="#1a1a1c"/><circle cx="503.1" cy="327.6" r="0.7" fill="#8a8a8a"/><circle cx="476.5" cy="322.5" r="1.6" fill="#1a1a1c"/><circle cx="476.1" cy="323.0" r="0.7" fill="#8a8a8a"/><circle cx="484.1" cy="325.8" r="1.6" fill="#1a1a1c"/><circle cx="483.7" cy="326.3" r="0.7" fill="#8a8a8a"/><circle cx="491.8" cy="329.1" r="1.6" fill="#1a1a1c"/><circle cx="491.4" cy="329.6" r="0.7" fill="#8a8a8a"/><circle cx="499.4" cy="332.3" r="1.6" fill="#1a1a1c"/><circle cx="499.0" cy="332.8" r="0.7" fill="#8a8a8a"/><circle cx="507.0" cy="335.6" r="1.6" fill="#1a1a1c"/><circle cx="506.6" cy="336.1" r="0.7" fill="#8a8a8a"/><circle cx="473.5" cy="331.0" r="1.6" fill="#1a1a1c"/><circle cx="473.1" cy="331.5" r="0.7" fill="#8a8a8a"/><circle cx="481.1" cy="334.3" r="1.6" fill="#1a1a1c"/><circle cx="480.7" cy="334.8" r="0.7" fill="#8a8a8a"/><circle cx="488.8" cy="337.6" r="1.6" fill="#1a1a1c"/><circle cx="488.4" cy="338.1" r="0.7" fill="#8a8a8a"/><circle cx="496.4" cy="340.8" r="1.6" fill="#1a1a1c"/><circle cx="496.0" cy="341.3" r="0.7" fill="#8a8a8a"/><circle cx="504.0" cy="344.1" r="1.6" fill="#1a1a1c"/><circle cx="503.6" cy="344.6" r="0.7" fill="#8a8a8a"/></g><text transform="matrix(1.268,0.545,-0.800,0.600,488.0,291.5)" font-size="13.0" font-weight="normal" font-family="Liberation Sans" fill="#1e1e21" stroke="#1e1e21" stroke-width="0.70">VGA</text><path transform="translate(497.0,298.5) scale(1.00)" d="M0,0 L8.8,3.6 L0.6,5.6 Z" fill="#1e1e21"/><g filter="url(#hb)" fill="#f4f6f7" stroke="#f4f6f7" stroke-width="5" stroke-linejoin="round" opacity="0.9"><path d="M74.54,628.39 L122.46,648.11 C135.68,653.55 146.50,669.70 146.50,684.00 L146.50,680.00 C146.50,694.30 135.27,702.72 121.54,698.72 L75.46,685.28 C61.73,681.28 50.50,666.30 50.50,652.00 L50.50,644.50 C50.50,630.20 61.32,622.95 74.54,628.39 Z"/><path d="M89.20,617.69 L135.96,636.72 C148.95,642.01 159.58,657.81 159.58,671.83 L159.58,668.17 C159.58,682.19 148.61,690.30 135.20,686.19 L89.96,672.31 C76.55,668.20 65.58,653.36 65.58,639.33 L65.58,633.58 C65.58,619.56 76.21,612.41 89.20,617.69 Z"/><path d="M103.86,606.99 L149.47,625.34 C162.23,630.47 172.67,645.92 172.67,659.67 L172.67,656.33 C172.67,670.08 161.96,677.88 148.87,673.66 L104.46,659.34 C91.37,655.12 80.67,640.42 80.67,626.67 L80.67,622.67 C80.67,608.92 91.10,601.86 103.86,606.99 Z"/><path d="M118.52,596.29 L162.98,613.96 C175.50,618.93 185.75,634.02 185.75,647.50 L185.75,644.50 C185.75,657.98 175.31,665.46 162.55,661.14 L118.95,646.36 C106.19,642.04 95.75,627.48 95.75,614.00 L95.75,611.75 C95.75,598.27 106.00,591.32 118.52,596.29 Z"/><path d="M133.18,585.59 L176.49,602.57 C188.78,607.39 198.83,622.13 198.83,635.33 L198.83,632.67 C198.83,645.87 188.66,653.04 176.22,648.62 L133.44,633.38 C121.01,628.96 110.83,614.53 110.83,601.33 L110.83,600.83 C110.83,587.63 120.89,580.78 133.18,585.59 Z"/><path d="M147.84,574.89 L190.00,591.19 C202.05,595.85 211.92,610.24 211.92,623.17 L211.92,620.83 C211.92,633.76 202.01,640.63 189.91,636.10 L147.93,620.40 C135.82,615.87 125.92,601.59 125.92,588.67 L125.92,589.92 C125.92,576.99 135.78,570.23 147.84,574.89 Z"/><path d="M162.49,564.19 L203.51,579.81 C215.33,584.32 225.00,598.35 225.00,611.00 L225.00,609.00 C225.00,621.65 215.37,628.22 203.59,623.59 L162.41,607.41 C150.63,602.78 141.00,588.65 141.00,576.00 L141.00,579.00 C141.00,566.35 150.67,559.68 162.49,564.19 Z"/><path transform="" d="M141,564 C150,555 160,550 172,550 C185,550 195,552 202,555 L216,557.5 L236,570 C240,578 241,588 240,598 C239,607 235,614 227,621 L190,610 Z"/></g><g transform="translate(28.0,471.0)"><path d="M189,86.8 L202,78.3 L224.7,86.8 C228.5,88 230,92 228.5,95 L213,105 C211.5,106 210,105.5 209.6,104 Z" fill="#c4942a"/><path d="M189,86.8 L202,78.3 L224.7,86.8 L209.6,98.2 Z" fill="#e5ca86" stroke="#c9a24a" stroke-width="0.8"/><path d="M210.5,100 L226,89" stroke="#fbeab0" stroke-width="2.2"/></g><path d="M141,564 C150,555 160,550 172,550 C185,550 195,552 202,555 L216,557.5 L236,570 C240,578 241,588 240,598 C239,607 235,614 227,621 L190,610 Z" fill="url(#lg17)"/><path d="M141,564 C150,555 160,550 172,550 C185,550 195,552 202,555 L216,557.5 L236,570 C240,578 241,588 240,598 C239,607 235,614 227,621 L190,610 Z" fill="url(#bg18)"/><ellipse cx="0" cy="0" rx="8.0" ry="2.0" transform="translate(225.0,586.0) rotate(-40.0)" fill="#9a9aa0" opacity="0.45" filter="url(#hs)"/><rect x="0" y="0" width="800" height="800" fill="url(#lg20)" clip-path="url(#c19)"/><path d="M74.54,628.39 L122.46,648.11 C135.68,653.55 146.50,669.70 146.50,684.00 L146.50,680.00 C146.50,694.30 135.27,702.72 121.54,698.72 L75.46,685.28 C61.73,681.28 50.50,666.30 50.50,652.00 L50.50,644.50 C50.50,630.20 61.32,622.95 74.54,628.39 Z" fill="#8e9094"/><path d="M74.60,629.28 L122.40,648.95 C135.21,654.22 145.70,669.88 145.70,683.74 L145.70,679.73 C145.70,693.59 134.81,701.76 121.51,697.88 L75.49,684.46 C62.19,680.58 51.30,666.06 51.30,652.20 L51.30,644.89 C51.30,631.03 61.79,624.01 74.60,629.28 Z" fill="#eef0f2"/><path d="M74.70,630.73 L122.30,650.31 C134.45,655.31 144.40,670.16 144.40,683.31 L144.40,679.30 C144.40,692.45 134.08,700.19 121.46,696.51 L75.54,683.12 C62.92,679.44 52.60,665.67 52.60,652.52 L52.60,645.53 C52.60,632.39 62.55,625.73 74.70,630.73 Z" fill="#3a3b3f"/><path d="M74.75,631.51 L122.25,651.05 C134.05,655.90 143.70,670.32 143.70,683.08 L143.70,679.07 C143.70,691.83 133.68,699.34 121.43,695.77 L75.57,682.40 C63.32,678.82 53.30,665.46 53.30,652.70 L53.30,645.88 C53.30,633.12 62.95,626.65 74.75,631.51 Z" fill="#68696d"/><path d="M74.82,632.51 L122.18,651.99 C133.52,656.66 142.80,670.51 142.80,682.78 L142.80,678.77 C142.80,691.03 133.17,698.26 121.39,694.82 L75.61,681.47 C63.83,678.03 54.20,665.19 54.20,652.93 L54.20,646.32 C54.20,634.06 63.48,627.84 74.82,632.51 Z" fill="#3c3c3e"/><path d="M75.3,636.7 L118.5,653 L118.5,682 L111.5,680 L111.5,685 L88,677 L88,672 L81,669.5 L81,674 L75.3,672 Z" fill="#2b2a2a"/><path d="M77.6,640 L116.5,655 L116.5,679 L109.5,677 L109.5,682 L90,675 L90,670 L83,667.5 L83,671 L77.6,669 Z" fill="#151414"/><g transform="matrix(0.944,0.33,-0.64,0.77,0,0)"></g><text transform="matrix(1.333,0.573,-0.800,0.600,105.5,619.0)" font-size="5.8" font-weight="normal" font-family="Liberation Sans" fill="#1e1e21" stroke="#1e1e21" stroke-width="0.10">Gb LAN</text><text transform="matrix(1.195,0.514,-0.800,0.600,102.0,627.5)" font-size="5.8" font-weight="normal" font-family="Liberation Sans" fill="#1e1e21" stroke="#1e1e21" stroke-width="0.10">RJ45</text><path transform="translate(104.0,630.8) scale(1.00)" d="M0,0 L8.8,3.6 L0.6,5.6 Z" fill="#1e1e21"/><path d="M106.37,614.72 L135.13,625.78 C136.16,626.18 136.82,627.38 136.61,628.46 L136.39,629.54 C136.18,630.62 135.16,631.18 134.13,630.78 L105.37,619.72 C104.34,619.32 103.68,618.12 103.89,617.04 L104.11,615.96 C104.32,614.88 105.34,614.32 106.37,614.72 Z" fill="none" stroke="#2a2a2c" stroke-width="0.7"/><line x1="31.0" y1="120.0" x2="49.0" y2="127.0" stroke="#2e2e30" stroke-width="1.25"/><line x1="40.0" y1="123.5" x2="149.5" y2="55.0" stroke="#2e2e30" stroke-width="1.25"/><line x1="140.0" y1="51.0" x2="159.0" y2="59.0" stroke="#2e2e30" stroke-width="1.25"/><line x1="45.8" y1="166.4" x2="45.8" y2="184.8" stroke="#2e2e30" stroke-width="1.25"/><line x1="45.8" y1="176.0" x2="140.2" y2="216.2" stroke="#2e2e30" stroke-width="1.25"/><line x1="140.2" y1="207.5" x2="140.2" y2="225.9" stroke="#2e2e30" stroke-width="1.25"/><line x1="140.2" y1="206.6" x2="159.5" y2="215.4" stroke="#2e2e30" stroke-width="1.25"/><line x1="150.4" y1="169.9" x2="150.4" y2="211.0" stroke="#2e2e30" stroke-width="1.25"/><line x1="141.1" y1="167.2" x2="159.5" y2="173.4" stroke="#2e2e30" stroke-width="1.25"/><text x="43.4" y="78.4" font-size="16.4" fill="#2f2f31" stroke="#2f2f31" stroke-width="0.30">33.3mm</text><text x="47.4" y="222.9" font-size="16.4" fill="#2f2f31" stroke="#2f2f31" stroke-width="0.30">23.9mm</text><text x="156.4" y="201.4" font-size="16.4" fill="#2f2f31" stroke="#2f2f31" stroke-width="0.30">10.9mm</text><line x1="31.0" y1="370.0" x2="49.0" y2="377.0" stroke="#2e2e30" stroke-width="1.25"/><line x1="40.0" y1="373.5" x2="149.5" y2="305.0" stroke="#2e2e30" stroke-width="1.25"/><line x1="140.0" y1="301.0" x2="159.0" y2="309.0" stroke="#2e2e30" stroke-width="1.25"/><line x1="45.8" y1="416.4" x2="45.8" y2="434.8" stroke="#2e2e30" stroke-width="1.25"/><line x1="45.8" y1="426.0" x2="140.2" y2="466.2" stroke="#2e2e30" stroke-width="1.25"/><line x1="140.2" y1="457.5" x2="140.2" y2="475.9" stroke="#2e2e30" stroke-width="1.25"/><line x1="140.2" y1="456.6" x2="159.5" y2="465.4" stroke="#2e2e30" stroke-width="1.25"/><line x1="150.4" y1="419.9" x2="150.4" y2="461.0" stroke="#2e2e30" stroke-width="1.25"/><line x1="141.1" y1="417.2" x2="159.5" y2="423.4" stroke="#2e2e30" stroke-width="1.25"/><text x="43.4" y="328.4" font-size="16.4" fill="#2f2f31" stroke="#2f2f31" stroke-width="0.30">33.3mm</text><text x="47.4" y="472.9" font-size="16.4" fill="#2f2f31" stroke="#2f2f31" stroke-width="0.30">23.9mm</text><text x="156.4" y="451.4" font-size="16.4" fill="#2f2f31" stroke="#2f2f31" stroke-width="0.30">10.9mm</text><line x1="426.0" y1="525.0" x2="444.0" y2="532.0" stroke="#2e2e30" stroke-width="1.25"/><line x1="435.0" y1="528.5" x2="544.5" y2="460.0" stroke="#2e2e30" stroke-width="1.25"/><line x1="535.0" y1="456.0" x2="554.0" y2="464.0" stroke="#2e2e30" stroke-width="1.25"/><line x1="440.8" y1="571.4" x2="440.8" y2="589.8" stroke="#2e2e30" stroke-width="1.25"/><line x1="440.8" y1="581.0" x2="535.2" y2="621.2" stroke="#2e2e30" stroke-width="1.25"/><line x1="535.2" y1="612.5" x2="535.2" y2="630.9" stroke="#2e2e30" stroke-width="1.25"/><line x1="535.2" y1="611.6" x2="554.5" y2="620.4" stroke="#2e2e30" stroke-width="1.25"/><line x1="545.4" y1="574.9" x2="545.4" y2="616.0" stroke="#2e2e30" stroke-width="1.25"/><line x1="536.1" y1="572.2" x2="554.5" y2="578.4" stroke="#2e2e30" stroke-width="1.25"/><text x="438.4" y="483.4" font-size="16.4" fill="#2f2f31" stroke="#2f2f31" stroke-width="0.30">33.3mm</text><text x="442.4" y="627.9" font-size="16.4" fill="#2f2f31" stroke="#2f2f31" stroke-width="0.30">23.9mm</text><text x="551.4" y="606.4" font-size="16.4" fill="#2f2f31" stroke="#2f2f31" stroke-width="0.30">10.9mm</text><line x1="431.0" y1="282.0" x2="450.0" y2="290.0" stroke="#2e2e30" stroke-width="1.25"/><line x1="442.5" y1="286.0" x2="546.5" y2="221.0" stroke="#2e2e30" stroke-width="1.25"/><line x1="537.5" y1="217.5" x2="556.0" y2="225.0" stroke="#2e2e30" stroke-width="1.25"/><line x1="443.5" y1="339.0" x2="443.5" y2="358.0" stroke="#2e2e30" stroke-width="1.25"/><line x1="443.5" y1="348.0" x2="537.5" y2="386.5" stroke="#2e2e30" stroke-width="1.25"/><line x1="537.5" y1="377.5" x2="537.5" y2="397.5" stroke="#2e2e30" stroke-width="1.25"/><line x1="548.0" y1="329.0" x2="548.0" y2="380.0" stroke="#2e2e30" stroke-width="1.25"/><line x1="538.8" y1="324.0" x2="557.5" y2="332.0" stroke="#2e2e30" stroke-width="1.25"/><line x1="538.8" y1="377.5" x2="557.5" y2="385.0" stroke="#2e2e30" stroke-width="1.25"/><text x="440.4" y="243.4" font-size="16.4" fill="#2f2f31" stroke="#2f2f31" stroke-width="0.30">33.3mm</text><text x="445.4" y="391.9" font-size="16.4" fill="#2f2f31" stroke="#2f2f31" stroke-width="0.30">25.2mm</text><text x="555.4" y="364.9" font-size="16.4" fill="#2f2f31" stroke="#2f2f31" stroke-width="0.30">14.6mm</text><line x1="35.0" y1="613.8" x2="53.8" y2="621.2" stroke="#2e2e30" stroke-width="1.25"/><line x1="40.0" y1="617.5" x2="167.5" y2="531.2" stroke="#2e2e30" stroke-width="1.25"/><line x1="158.8" y1="527.5" x2="176.2" y2="535.0" stroke="#2e2e30" stroke-width="1.25"/><line x1="49.0" y1="670.0" x2="49.0" y2="689.0" stroke="#2e2e30" stroke-width="1.25"/><line x1="49.0" y1="680.0" x2="143.0" y2="721.0" stroke="#2e2e30" stroke-width="1.25"/><line x1="143.0" y1="710.0" x2="143.0" y2="730.0" stroke="#2e2e30" stroke-width="1.25"/><line x1="154.0" y1="660.0" x2="154.0" y2="711.0" stroke="#2e2e30" stroke-width="1.25"/><line x1="144.0" y1="655.0" x2="163.0" y2="663.0" stroke="#2e2e30" stroke-width="1.25"/><line x1="145.0" y1="709.0" x2="163.0" y2="716.0" stroke="#2e2e30" stroke-width="1.25"/><text x="45.4" y="561.9" font-size="16.4" fill="#2f2f31" stroke="#2f2f31" stroke-width="0.30">44.5mm</text><text x="50.4" y="723.4" font-size="16.4" fill="#2f2f31" stroke="#2f2f31" stroke-width="0.30">25.2mm</text><text x="158.4" y="696.4" font-size="16.4" fill="#2f2f31" stroke="#2f2f31" stroke-width="0.30">14.6mm</text><rect x="262.5" y="125.0" width="127.5" height="55.0" rx="27.5" fill="#f3f4f6" stroke="#c3c5c9" stroke-width="0.9"/><rect x="265.1" y="127.6" width="122.3" height="49.8" rx="24.9" fill="#8d8e93"/><rect x="265.7" y="128.2" width="121.1" height="48.6" rx="24.3" fill="#48484e"/><path d="M291,140 L361.5,140 L362.5,141 L362.5,158 L352,167.5 L301,167.5 L290.5,158 L290.5,141 Z" fill="#b89a5e"/><path d="M292.2,141.3 L361.3,141.3 L361.3,157.5 L351.5,166.3 L301.5,166.3 L291.7,157.5 Z" fill="#151515"/><rect x="299" y="151" width="56" height="4.5" fill="#d8d8d8"/><rect x="261.0" y="374.0" width="129.0" height="55.0" rx="27.5" fill="#f3f4f6" stroke="#c3c5c9" stroke-width="0.9"/><rect x="263.6" y="376.6" width="123.8" height="49.8" rx="24.9" fill="#8d8e93"/><rect x="264.2" y="377.2" width="122.6" height="48.6" rx="24.3" fill="#48484e"/><path d="M307.5,387.5 L344,387.5 L344,413 L339.5,417.5 L312,417.5 L307.5,413 Z" fill="#8a7650"/><path d="M308.7,388.7 L342.8,388.7 L342.8,412.5 L339,416.3 L312.5,416.3 L308.7,412.5 Z" fill="#151515"/><rect x="314.5" y="400" width="22.5" height="7" fill="#7e7e80"/><rect x="659.0" y="285.0" width="130.0" height="65.0" rx="32.5" fill="#f3f4f6" stroke="#c3c5c9" stroke-width="0.9"/><rect x="661.6" y="287.6" width="124.8" height="59.8" rx="29.9" fill="#8d8e93"/><rect x="662.2" y="288.2" width="123.6" height="58.6" rx="29.3" fill="#48484e"/><rect x="677.5" y="297.5" width="90" height="41.5" rx="7" fill="#2a2a2c"/><path d="M689,300 L756,300 Q762,300 761,306 L757,331 Q756,336 751,336 L694,336 Q689,336 688,331 L684,306 Q683,300 689,300 Z" fill="#d8c080"/><path d="M689.5,301.2 L755.5,301.2 Q760.3,301.2 759.6,306 L755.9,330.5 Q755.3,334.8 751,334.8 L694,334.8 Q689.7,334.8 689.1,330.5 L685.4,306 Q684.7,301.2 689.5,301.2 Z" fill="#f0dca0"/><path d="M690,302.6 L755,302.6 Q758.8,302.6 758.2,306.5 L754.6,330 Q754,333.5 750.5,333.5 L694.5,333.5 Q691,333.5 690.4,330 L686.8,306.5 Q686.2,302.6 690,302.6 Z" fill="#3c3d42"/><circle cx="698.0" cy="309.5" r="1.6" fill="#1a1a1c"/><circle cx="710.3" cy="309.5" r="1.6" fill="#1a1a1c"/><circle cx="722.6" cy="309.5" r="1.6" fill="#1a1a1c"/><circle cx="734.9" cy="309.5" r="1.6" fill="#1a1a1c"/><circle cx="747.2" cy="309.5" r="1.6" fill="#1a1a1c"/><circle cx="700.0" cy="318" r="1.6" fill="#1a1a1c"/><circle cx="712.3" cy="318" r="1.6" fill="#1a1a1c"/><circle cx="724.6" cy="318" r="1.6" fill="#1a1a1c"/><circle cx="736.9" cy="318" r="1.6" fill="#1a1a1c"/><circle cx="749.2" cy="318" r="1.6" fill="#1a1a1c"/><circle cx="696.0" cy="326.5" r="1.6" fill="#1a1a1c"/><circle cx="708.3" cy="326.5" r="1.6" fill="#1a1a1c"/><circle cx="720.6" cy="326.5" r="1.6" fill="#1a1a1c"/><circle cx="732.9" cy="326.5" r="1.6" fill="#1a1a1c"/><circle cx="745.2" cy="326.5" r="1.6" fill="#1a1a1c"/><rect x="657.0" y="530.5" width="128.0" height="54.5" rx="27.2" fill="#f3f4f6" stroke="#c3c5c9" stroke-width="0.9"/><rect x="659.6" y="533.1" width="122.8" height="49.3" rx="24.6" fill="#8d8e93"/><rect x="660.2" y="533.7" width="121.6" height="48.1" rx="24.1" fill="#48484e"/><path d="M674.5,545 L767,545 L767,572.5 L681,572.5 L674.5,566 Z" fill="#b89a5e"/><path d="M675.8,546.3 L765.7,546.3 L765.7,571.2 L681.5,571.2 L675.8,565.5 Z" fill="#151515"/><rect x="678" y="552" width="2.5" height="7" fill="#c8a860"/><path d="M688,552 L753,552 L753,566 L688,566 Z" fill="#232325"/><rect x="693" y="557" width="55" height="4" fill="#9a9a9a"/><rect x="265.0" y="616.0" width="128.0" height="64.5" rx="32.2" fill="#f3f4f6" stroke="#c3c5c9" stroke-width="0.9"/><rect x="267.6" y="618.6" width="122.8" height="59.3" rx="29.6" fill="#8d8e93"/><rect x="268.2" y="619.2" width="121.6" height="58.1" rx="29.1" fill="#48484e"/><path d="M302,630 L355,630 L355,664 L346,664 L346,668.5 L335,668.5 L335,672.5 L322,672.5 L322,668.5 L311,668.5 L311,664 L302,664 Z" fill="#1a1a1b"/><rect x="396.0" y="631" width="2" height="8" fill="#b8a46a" transform="skewX(-8)" /><rect x="401.9" y="631" width="2" height="8" fill="#b8a46a" transform="skewX(-8)" /><rect x="407.8" y="631" width="2" height="8" fill="#b8a46a" transform="skewX(-8)" /><rect x="413.7" y="631" width="2" height="8" fill="#b8a46a" transform="skewX(-8)" /><rect x="419.6" y="631" width="2" height="8" fill="#b8a46a" transform="skewX(-8)" /><rect x="425.5" y="631" width="2" height="8" fill="#b8a46a" transform="skewX(-8)" /><rect x="431.4" y="631" width="2" height="8" fill="#b8a46a" transform="skewX(-8)" /><rect x="437.3" y="631" width="2" height="8" fill="#b8a46a" transform="skewX(-8)" /><rect x="302" y="640" width="53" height="2" fill="#2e3a30"/><text x="254.0" y="220.0" font-size="25.0" fill="#111113">HDMI female</text><text x="247.5" y="470.0" font-size="25.0" fill="#111113">MiniDP female</text><text x="659.0" y="384.0" font-size="25.0" fill="#111113">VGA female</text><text x="664.0" y="624.0" font-size="25.0" fill="#111113">DP female</text><text x="256.5" y="715.6" font-size="24.4" fill="#111113">Gigabit RJ45</text><text x="255" y="756" font-size="25" fill="#111113" letter-spacing="0.75">network port</text></svg></body></html>
